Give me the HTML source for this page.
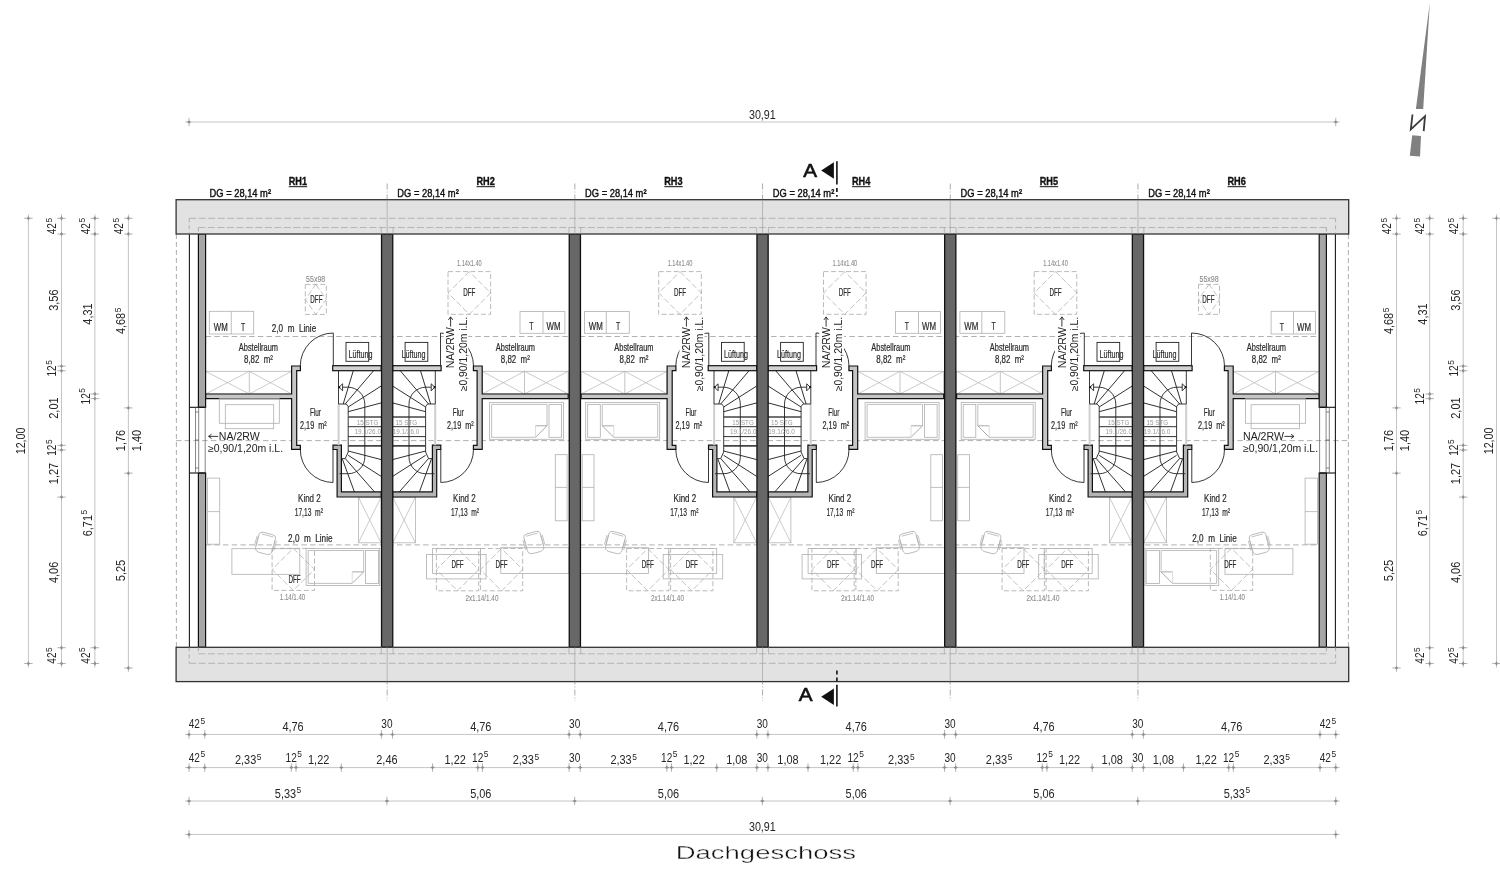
<!DOCTYPE html><html><head><meta charset="utf-8"><style>html,body{margin:0;padding:0;background:#fff;}svg{display:block;will-change:transform;transform:translateZ(0);}</style></head><body>
<svg width="1500" height="887" viewBox="0 0 1500 887">
<rect width="1500" height="887" fill="#fff"/>
<line x1="176" y1="440.6" x2="1348.8" y2="440.6" stroke="#a8a8a8" stroke-width="0.9" stroke-dasharray="5.5,3.2"/>
<line x1="205.6" y1="336.5" x2="1319.2" y2="336.5" stroke="#a8a8a8" stroke-width="0.9" stroke-dasharray="5.5,3.2"/>
<line x1="205.6" y1="544.9" x2="1319.2" y2="544.9" stroke="#a8a8a8" stroke-width="0.9" stroke-dasharray="5.5,3.2"/>
<rect x="205.6" y="371.3" width="86" height="22.7" fill="none" stroke="#b5b5b5" stroke-width="0.8"/>
<line x1="249.3" y1="371.3" x2="249.3" y2="394" stroke="#b5b5b5" stroke-width="0.8"/>
<line x1="205.6" y1="371.3" x2="249.3" y2="394" stroke="#b5b5b5" stroke-width="0.7"/>
<line x1="205.6" y1="394" x2="249.3" y2="371.3" stroke="#b5b5b5" stroke-width="0.7"/>
<line x1="249.3" y1="371.3" x2="291.6" y2="394" stroke="#b5b5b5" stroke-width="0.7"/>
<line x1="249.3" y1="394" x2="291.6" y2="371.3" stroke="#b5b5b5" stroke-width="0.7"/>
<rect x="358.4" y="497.2" width="22.6" height="45.6" fill="none" stroke="#b5b5b5" stroke-width="0.8"/>
<line x1="358.4" y1="497.2" x2="381" y2="542.8" stroke="#b5b5b5" stroke-width="0.7"/>
<line x1="358.4" y1="542.8" x2="381" y2="497.2" stroke="#b5b5b5" stroke-width="0.7"/>
<rect x="346" y="342.4" width="22.7" height="18.9" fill="none" stroke="#222" stroke-width="0.9"/>
<polygon points="291.6,366 300.4,366 300.4,370.7 296.7,370.7 296.7,445.3 300.4,445.3 300.4,449.3 291.6,449.3 291.6,398.7 205.6,398.7 205.6,394 291.6,394" fill="#c6c6c6" stroke="#111" stroke-width="1.2" stroke-linejoin="miter"/>
<rect x="332.7" y="365.7" width="48.5" height="5" fill="#d2d2d2" stroke="#111" stroke-width="1.2"/>
<polygon points="333,445.2 341.4,445.2 341.4,491.9 381.2,491.9 381.2,497 337.1,497 337.1,449.5 333,449.5" fill="#b4b4b4" stroke="#111" stroke-width="1.2" stroke-linejoin="miter"/>
<line x1="338.5" y1="370.7" x2="338.5" y2="404" stroke="#222" stroke-width="0.9"/>
<rect x="337.6" y="404" width="2" height="41.2" fill="#cfcfcf" stroke="none" stroke-width="0"/>
<polyline points="338.5,404 346.2,404 348.2,406.5 348.2,452 345.2,458.6 341.4,458.6" fill="none" stroke="#222" stroke-width="0.9" stroke-linejoin="miter"/>
<line x1="343.2" y1="404" x2="353.3" y2="370.7" stroke="#1a1a1a" stroke-width="0.9"/>
<line x1="345.2" y1="404" x2="373.6" y2="370.7" stroke="#1a1a1a" stroke-width="0.9"/>
<line x1="348.2" y1="407" x2="381.2" y2="386" stroke="#1a1a1a" stroke-width="0.9"/>
<line x1="348.2" y1="411.7" x2="381.2" y2="402.9" stroke="#1a1a1a" stroke-width="0.9"/>
<line x1="348.2" y1="451" x2="381.2" y2="459.6" stroke="#1a1a1a" stroke-width="0.9"/>
<line x1="348.2" y1="455.3" x2="381.2" y2="476.4" stroke="#1a1a1a" stroke-width="0.9"/>
<line x1="345.3" y1="458.6" x2="374.5" y2="491.9" stroke="#1a1a1a" stroke-width="0.9"/>
<line x1="342.4" y1="459.1" x2="354.4" y2="491.9" stroke="#1a1a1a" stroke-width="0.9"/>
<line x1="348.2" y1="417" x2="381.2" y2="417" stroke="#444" stroke-width="1.6"/>
<line x1="348.2" y1="426.7" x2="381.2" y2="426.7" stroke="#1a1a1a" stroke-width="0.9"/>
<line x1="348.2" y1="436.6" x2="381.2" y2="436.6" stroke="#1a1a1a" stroke-width="0.9"/>
<line x1="348.2" y1="445.9" x2="381.2" y2="445.9" stroke="#444" stroke-width="1.6"/>
<path d="M338.8,387.2 H347.9 A16.9,16.9 0 0 1 364.8,404.1 V457.2 A16.5,16.5 0 0 1 348.3,473.7 H339.5" fill="none" stroke="#222" stroke-width="0.9"/>
<polygon points="339,387.2 342.6,383.8 342.6,390.8" fill="white" stroke="#222" stroke-width="0.9" stroke-linejoin="miter"/>
<circle cx="339.2" cy="387.2" r="1.1" fill="#111"/>
<path d="M333.3,366 V333 A33,33 0 0 0 300.3,366" fill="none" stroke="#222" stroke-width="0.9"/>
<path d="M333,449.5 V482.5 A33,33 0 0 1 300.3,449.5" fill="none" stroke="#222" stroke-width="0.9"/>
<text x="258.4" y="350.8" font-family='"Liberation Sans", sans-serif' font-size="10.4" fill="#2a2a2a" font-weight="normal" text-anchor="middle" textLength="39.2" lengthAdjust="spacingAndGlyphs" stroke="#2a2a2a" stroke-width="0.22">Abstellraum</text>
<text x="258.5" y="363" font-family='"Liberation Sans", sans-serif' font-size="10.9" fill="#2a2a2a" font-weight="normal" text-anchor="middle" textLength="29" lengthAdjust="spacingAndGlyphs" stroke="#2a2a2a" stroke-width="0.22">8,82&#160;&#160;m²</text>
<text x="315.5" y="415.8" font-family='"Liberation Sans", sans-serif' font-size="10.4" fill="#2a2a2a" font-weight="normal" text-anchor="middle" textLength="11" lengthAdjust="spacingAndGlyphs" stroke="#2a2a2a" stroke-width="0.22">Flur</text>
<text x="313.4" y="428.8" font-family='"Liberation Sans", sans-serif' font-size="10.9" fill="#2a2a2a" font-weight="normal" text-anchor="middle" textLength="26.7" lengthAdjust="spacingAndGlyphs" stroke="#2a2a2a" stroke-width="0.22">2,19&#160;&#160;m²</text>
<text x="309.4" y="501.7" font-family='"Liberation Sans", sans-serif' font-size="10.6" fill="#2a2a2a" font-weight="normal" text-anchor="middle" textLength="22.6" lengthAdjust="spacingAndGlyphs" stroke="#2a2a2a" stroke-width="0.22">Kind 2</text>
<text x="308.8" y="516" font-family='"Liberation Sans", sans-serif' font-size="11.2" fill="#2a2a2a" font-weight="normal" text-anchor="middle" textLength="28.2" lengthAdjust="spacingAndGlyphs" stroke="#2a2a2a" stroke-width="0.22">17,13&#160;&#160;m²</text>
<text x="360.4" y="357.6" font-family='"Liberation Sans", sans-serif' font-size="11.5" fill="#2a2a2a" font-weight="normal" text-anchor="middle" textLength="24" lengthAdjust="spacingAndGlyphs" stroke="#2a2a2a" stroke-width="0.22">Lüftung</text>
<text x="367.5" y="424.6" font-family='"Liberation Sans", sans-serif' font-size="7.4" fill="#9a9a9a" font-weight="normal" text-anchor="middle" textLength="21.5" lengthAdjust="spacingAndGlyphs">15 STG</text>
<text x="367.7" y="433.7" font-family='"Liberation Sans", sans-serif' font-size="7.4" fill="#9a9a9a" font-weight="normal" text-anchor="middle" textLength="26.6" lengthAdjust="spacingAndGlyphs">19.1/26.0</text>
<rect x="209.3" y="311.3" width="44.4" height="22.7" fill="none" stroke="#b0b0b0" stroke-width="0.8"/>
<line x1="231.3" y1="311.3" x2="231.3" y2="334" stroke="#b0b0b0" stroke-width="0.8"/>
<text x="220.8" y="330.6" font-family='"Liberation Sans", sans-serif' font-size="10.4" fill="#2a2a2a" font-weight="normal" text-anchor="middle" textLength="14" lengthAdjust="spacingAndGlyphs" stroke="#2a2a2a" stroke-width="0.22">WM</text>
<text x="243" y="330.6" font-family='"Liberation Sans", sans-serif' font-size="10.4" fill="#2a2a2a" font-weight="normal" text-anchor="middle" textLength="4.2" lengthAdjust="spacingAndGlyphs" stroke="#2a2a2a" stroke-width="0.22">T</text>
<rect x="305.3" y="284.4" width="21" height="30" fill="none" stroke="#a8a8a8" stroke-width="0.8" stroke-dasharray="5,2.5"/>
<polygon points="315.8,284.4 326.3,299.4 315.8,314.4 305.3,299.4" fill="none" stroke="#a8a8a8" stroke-width="0.7" stroke-linejoin="miter" stroke-dasharray="6,2.5"/>
<text x="315.7" y="281.5" font-family='"Liberation Sans", sans-serif' font-size="8.6" fill="#8a8a8a" font-weight="normal" text-anchor="middle" textLength="19.2" lengthAdjust="spacingAndGlyphs" stroke="#8a8a8a" stroke-width="0.1">55x98</text>
<text x="316.4" y="302.7" font-family='"Liberation Sans", sans-serif' font-size="10.4" fill="#2a2a2a" font-weight="normal" text-anchor="middle" textLength="12.1" lengthAdjust="spacingAndGlyphs" stroke="#2a2a2a" stroke-width="0.22">DFF</text>
<text x="294" y="331.8" font-family='"Liberation Sans", sans-serif' font-size="10.4" fill="#2a2a2a" font-weight="normal" text-anchor="middle" textLength="44.4" lengthAdjust="spacingAndGlyphs" stroke="#2a2a2a" stroke-width="0.22">2,0&#160;&#160;m&#160;&#160;Linie</text>
<rect x="219.3" y="398.7" width="60" height="24.6" fill="none" stroke="#b0b0b0" stroke-width="0.8"/>
<rect x="225.3" y="404.7" width="48.4" height="24" fill="none" stroke="#b0b0b0" stroke-width="0.8"/>
<rect x="207.4" y="478.1" width="12.3" height="66.1" fill="none" stroke="#b0b0b0" stroke-width="0.8"/>
<line x1="207.4" y1="511.6" x2="219.7" y2="511.6" stroke="#b0b0b0" stroke-width="0.8"/>
<text x="310.3" y="541.8" font-family='"Liberation Sans", sans-serif' font-size="10.4" fill="#2a2a2a" font-weight="normal" text-anchor="middle" textLength="44.4" lengthAdjust="spacingAndGlyphs" stroke="#2a2a2a" stroke-width="0.22">2,0&#160;&#160;m&#160;&#160;Linie</text>
<g transform="translate(265.5 543.2) rotate(15)">
<path d="M-8.5,-7 Q-8.5,-10 -5,-10 L5,-10 Q8.5,-10 8.5,-7 L8.5,6 Q8.5,10 4,10.5 L-4,10.5 Q-8.5,10 -8.5,6 Z" fill="none" stroke="#b0b0b0" stroke-width="0.8"/>
<path d="M-6,-8 L6,-8 M-10,-5 L-10,5 M-8.5,-5 L-8.5,5 M10,-5 L10,5 M8.5,-5 L8.5,5" fill="none" stroke="#b0b0b0" stroke-width="0.7"/>
</g>
<rect x="231.9" y="548.7" width="67.9" height="25.6" fill="none" stroke="#b0b0b0" stroke-width="0.8"/>
<rect x="272.1" y="548.4" width="42.4" height="42" fill="none" stroke="#a8a8a8" stroke-width="0.8" stroke-dasharray="5,2.5"/>
<polygon points="293.3,548.4 314.5,569.4 293.3,590.4 272.1,569.4" fill="none" stroke="#a8a8a8" stroke-width="0.7" stroke-linejoin="miter" stroke-dasharray="6,2.5"/>
<text x="294.5" y="582.7" font-family='"Liberation Sans", sans-serif' font-size="10.4" fill="#2a2a2a" font-weight="normal" text-anchor="middle" textLength="12.1" lengthAdjust="spacingAndGlyphs" stroke="#2a2a2a" stroke-width="0.22">DFF</text>
<rect x="306.1" y="548.4" width="73.6" height="37.1" fill="none" stroke="#b0b0b0" stroke-width="0.8"/>
<polyline points="363.7,571.9 363.7,550.5 308.2,550.5 308.2,583.4 352.2,583.4" fill="none" stroke="#b0b0b0" stroke-width="0.8" stroke-linejoin="miter"/>
<line x1="352.2" y1="583.4" x2="363.7" y2="571.9" stroke="#a0a0a0" stroke-width="0.9"/>
<line x1="352.2" y1="571.9" x2="363.7" y2="571.9" stroke="#a0a0a0" stroke-width="0.9"/>
<line x1="352.2" y1="571.9" x2="352.2" y2="583.4" stroke="#d0d0d0" stroke-width="0.7"/>
<rect x="365.4" y="550.5" width="13.2" height="32.9" fill="none" stroke="#b0b0b0" stroke-width="0.8"/>
<text x="292.5" y="600.4" font-family='"Liberation Sans", sans-serif' font-size="8.6" fill="#8a8a8a" font-weight="normal" text-anchor="middle" textLength="25.3" lengthAdjust="spacingAndGlyphs" stroke="#8a8a8a" stroke-width="0.1">1.14/1.40</text>
<rect x="482.2" y="371.3" width="86" height="22.7" fill="none" stroke="#b5b5b5" stroke-width="0.8"/>
<line x1="524.5" y1="371.3" x2="524.5" y2="394" stroke="#b5b5b5" stroke-width="0.8"/>
<line x1="568.2" y1="371.3" x2="524.5" y2="394" stroke="#b5b5b5" stroke-width="0.7"/>
<line x1="568.2" y1="394" x2="524.5" y2="371.3" stroke="#b5b5b5" stroke-width="0.7"/>
<line x1="524.5" y1="371.3" x2="482.2" y2="394" stroke="#b5b5b5" stroke-width="0.7"/>
<line x1="524.5" y1="394" x2="482.2" y2="371.3" stroke="#b5b5b5" stroke-width="0.7"/>
<rect x="392.8" y="497.2" width="22.6" height="45.6" fill="none" stroke="#b5b5b5" stroke-width="0.8"/>
<line x1="415.4" y1="497.2" x2="392.8" y2="542.8" stroke="#b5b5b5" stroke-width="0.7"/>
<line x1="415.4" y1="542.8" x2="392.8" y2="497.2" stroke="#b5b5b5" stroke-width="0.7"/>
<rect x="405.1" y="342.4" width="22.7" height="18.9" fill="none" stroke="#222" stroke-width="0.9"/>
<polygon points="482.2,366 473.4,366 473.4,370.7 477.1,370.7 477.1,445.3 473.4,445.3 473.4,449.3 482.2,449.3 482.2,398.7 568.2,398.7 568.2,394 482.2,394" fill="#c6c6c6" stroke="#111" stroke-width="1.2" stroke-linejoin="miter"/>
<rect x="392.6" y="365.7" width="48.5" height="5" fill="#d2d2d2" stroke="#111" stroke-width="1.2"/>
<polygon points="440.8,445.2 432.4,445.2 432.4,491.9 392.6,491.9 392.6,497 436.7,497 436.7,449.5 440.8,449.5" fill="#b4b4b4" stroke="#111" stroke-width="1.2" stroke-linejoin="miter"/>
<line x1="435.3" y1="370.7" x2="435.3" y2="404" stroke="#222" stroke-width="0.9"/>
<rect x="434.2" y="404" width="2" height="41.2" fill="#cfcfcf" stroke="none" stroke-width="0"/>
<polyline points="435.3,404 427.6,404 425.6,406.5 425.6,452 428.6,458.6 432.4,458.6" fill="none" stroke="#222" stroke-width="0.9" stroke-linejoin="miter"/>
<line x1="430.6" y1="404" x2="420.5" y2="370.7" stroke="#1a1a1a" stroke-width="0.9"/>
<line x1="428.6" y1="404" x2="400.2" y2="370.7" stroke="#1a1a1a" stroke-width="0.9"/>
<line x1="425.6" y1="407" x2="392.6" y2="386" stroke="#1a1a1a" stroke-width="0.9"/>
<line x1="425.6" y1="411.7" x2="392.6" y2="402.9" stroke="#1a1a1a" stroke-width="0.9"/>
<line x1="425.6" y1="451" x2="392.6" y2="459.6" stroke="#1a1a1a" stroke-width="0.9"/>
<line x1="425.6" y1="455.3" x2="392.6" y2="476.4" stroke="#1a1a1a" stroke-width="0.9"/>
<line x1="428.5" y1="458.6" x2="399.3" y2="491.9" stroke="#1a1a1a" stroke-width="0.9"/>
<line x1="431.4" y1="459.1" x2="419.4" y2="491.9" stroke="#1a1a1a" stroke-width="0.9"/>
<line x1="425.6" y1="417" x2="392.6" y2="417" stroke="#444" stroke-width="1.6"/>
<line x1="425.6" y1="426.7" x2="392.6" y2="426.7" stroke="#1a1a1a" stroke-width="0.9"/>
<line x1="425.6" y1="436.6" x2="392.6" y2="436.6" stroke="#1a1a1a" stroke-width="0.9"/>
<line x1="425.6" y1="445.9" x2="392.6" y2="445.9" stroke="#444" stroke-width="1.6"/>
<path d="M435,387.2 H425.9 A16.9,16.9 0 0 0 409,404.1 V457.2 A16.5,16.5 0 0 0 425.5,473.7 H434.3" fill="none" stroke="#222" stroke-width="0.9"/>
<polygon points="434.8,387.2 431.2,383.8 431.2,390.8" fill="white" stroke="#222" stroke-width="0.9" stroke-linejoin="miter"/>
<circle cx="434.6" cy="387.2" r="1.1" fill="#111"/>
<path d="M440.5,366 V333 A33,33 0 0 1 473.5,366" fill="none" stroke="#222" stroke-width="0.9"/>
<path d="M440.8,449.5 V482.5 A33,33 0 0 0 473.5,449.5" fill="none" stroke="#222" stroke-width="0.9"/>
<text x="515.4" y="350.8" font-family='"Liberation Sans", sans-serif' font-size="10.4" fill="#2a2a2a" font-weight="normal" text-anchor="middle" textLength="39.2" lengthAdjust="spacingAndGlyphs" stroke="#2a2a2a" stroke-width="0.22">Abstellraum</text>
<text x="515.3" y="363" font-family='"Liberation Sans", sans-serif' font-size="10.9" fill="#2a2a2a" font-weight="normal" text-anchor="middle" textLength="29" lengthAdjust="spacingAndGlyphs" stroke="#2a2a2a" stroke-width="0.22">8,82&#160;&#160;m²</text>
<text x="458.3" y="415.8" font-family='"Liberation Sans", sans-serif' font-size="10.4" fill="#2a2a2a" font-weight="normal" text-anchor="middle" textLength="11" lengthAdjust="spacingAndGlyphs" stroke="#2a2a2a" stroke-width="0.22">Flur</text>
<text x="460.4" y="428.8" font-family='"Liberation Sans", sans-serif' font-size="10.9" fill="#2a2a2a" font-weight="normal" text-anchor="middle" textLength="26.7" lengthAdjust="spacingAndGlyphs" stroke="#2a2a2a" stroke-width="0.22">2,19&#160;&#160;m²</text>
<text x="464.4" y="501.7" font-family='"Liberation Sans", sans-serif' font-size="10.6" fill="#2a2a2a" font-weight="normal" text-anchor="middle" textLength="22.6" lengthAdjust="spacingAndGlyphs" stroke="#2a2a2a" stroke-width="0.22">Kind 2</text>
<text x="465" y="516" font-family='"Liberation Sans", sans-serif' font-size="11.2" fill="#2a2a2a" font-weight="normal" text-anchor="middle" textLength="28.2" lengthAdjust="spacingAndGlyphs" stroke="#2a2a2a" stroke-width="0.22">17,13&#160;&#160;m²</text>
<text x="413.4" y="357.6" font-family='"Liberation Sans", sans-serif' font-size="11.5" fill="#2a2a2a" font-weight="normal" text-anchor="middle" textLength="24" lengthAdjust="spacingAndGlyphs" stroke="#2a2a2a" stroke-width="0.22">Lüftung</text>
<text x="406.3" y="424.6" font-family='"Liberation Sans", sans-serif' font-size="7.4" fill="#9a9a9a" font-weight="normal" text-anchor="middle" textLength="21.5" lengthAdjust="spacingAndGlyphs">15 STG</text>
<text x="406.1" y="433.7" font-family='"Liberation Sans", sans-serif' font-size="7.4" fill="#9a9a9a" font-weight="normal" text-anchor="middle" textLength="26.6" lengthAdjust="spacingAndGlyphs">19.1/26.0</text>
<rect x="520" y="311.6" width="44.9" height="21.7" fill="none" stroke="#b0b0b0" stroke-width="0.8"/>
<line x1="543" y1="311.6" x2="543" y2="333.3" stroke="#b0b0b0" stroke-width="0.8"/>
<text x="553.5" y="330.3" font-family='"Liberation Sans", sans-serif' font-size="10.4" fill="#2a2a2a" font-weight="normal" text-anchor="middle" textLength="14" lengthAdjust="spacingAndGlyphs" stroke="#2a2a2a" stroke-width="0.22">WM</text>
<text x="531.3" y="330.3" font-family='"Liberation Sans", sans-serif' font-size="10.4" fill="#2a2a2a" font-weight="normal" text-anchor="middle" textLength="4.2" lengthAdjust="spacingAndGlyphs" stroke="#2a2a2a" stroke-width="0.22">T</text>
<rect x="448" y="271.6" width="42.6" height="42.7" fill="none" stroke="#a8a8a8" stroke-width="0.8" stroke-dasharray="5,2.5"/>
<polygon points="469.3,271.6 448,292.95 469.3,314.3 490.6,292.95" fill="none" stroke="#a8a8a8" stroke-width="0.7" stroke-linejoin="miter" stroke-dasharray="6,2.5"/>
<text x="469.3" y="265.7" font-family='"Liberation Sans", sans-serif' font-size="8.6" fill="#8a8a8a" font-weight="normal" text-anchor="middle" textLength="24.7" lengthAdjust="spacingAndGlyphs" stroke="#8a8a8a" stroke-width="0.1">1.14x1.40</text>
<text x="469.3" y="296.3" font-family='"Liberation Sans", sans-serif' font-size="10.4" fill="#2a2a2a" font-weight="normal" text-anchor="middle" textLength="12.1" lengthAdjust="spacingAndGlyphs" stroke="#2a2a2a" stroke-width="0.22">DFF</text>
<rect x="489.6" y="402.4" width="74" height="36.9" fill="none" stroke="#b0b0b0" stroke-width="0.8"/>
<polyline points="547,425.8 547,404.4 491.6,404.4 491.6,437.3 535.5,437.3" fill="none" stroke="#b0b0b0" stroke-width="0.8" stroke-linejoin="miter"/>
<line x1="535.5" y1="437.3" x2="547" y2="425.8" stroke="#a0a0a0" stroke-width="0.9"/>
<line x1="535.5" y1="425.8" x2="547" y2="425.8" stroke="#a0a0a0" stroke-width="0.9"/>
<line x1="535.5" y1="425.8" x2="535.5" y2="437.3" stroke="#d0d0d0" stroke-width="0.7"/>
<rect x="549" y="404.4" width="12.6" height="32.9" fill="none" stroke="#b0b0b0" stroke-width="0.8"/>
<rect x="555.3" y="454.7" width="11.8" height="66.1" fill="none" stroke="#b0b0b0" stroke-width="0.8"/>
<line x1="567.1" y1="487.4" x2="555.3" y2="487.4" stroke="#b0b0b0" stroke-width="0.8"/>
<g transform="translate(533.9 542.4) rotate(-15)">
<path d="M-8.5,-7 Q-8.5,-10 -5,-10 L5,-10 Q8.5,-10 8.5,-7 L8.5,6 Q8.5,10 4,10.5 L-4,10.5 Q-8.5,10 -8.5,6 Z" fill="none" stroke="#b0b0b0" stroke-width="0.8"/>
<path d="M-6,-8 L6,-8 M-10,-5 L-10,5 M-8.5,-5 L-8.5,5 M10,-5 L10,5 M8.5,-5 L8.5,5" fill="none" stroke="#b0b0b0" stroke-width="0.7"/>
</g>
<rect x="500.8" y="547.7" width="68.2" height="25.7" fill="none" stroke="#b0b0b0" stroke-width="0.8"/>
<rect x="480.4" y="548.5" width="42.3" height="42.3" fill="none" stroke="#a8a8a8" stroke-width="0.8" stroke-dasharray="5,2.5"/>
<polygon points="501.55,548.5 480.4,569.65 501.55,590.8 522.7,569.65" fill="none" stroke="#a8a8a8" stroke-width="0.7" stroke-linejoin="miter" stroke-dasharray="6,2.5"/>
<rect x="436.4" y="548.5" width="42.3" height="42.3" fill="none" stroke="#a8a8a8" stroke-width="0.8" stroke-dasharray="5,2.5"/>
<polygon points="457.55,548.5 436.4,569.65 457.55,590.8 478.7,569.65" fill="none" stroke="#a8a8a8" stroke-width="0.7" stroke-linejoin="miter" stroke-dasharray="6,2.5"/>
<rect x="426.6" y="554.5" width="59.5" height="24.4" fill="none" stroke="#b0b0b0" stroke-width="0.8"/>
<rect x="432.6" y="548.5" width="48" height="24.9" fill="none" stroke="#b0b0b0" stroke-width="0.8"/>
<text x="501.5" y="568.3" font-family='"Liberation Sans", sans-serif' font-size="10.4" fill="#2a2a2a" font-weight="normal" text-anchor="middle" textLength="12.1" lengthAdjust="spacingAndGlyphs" stroke="#2a2a2a" stroke-width="0.22">DFF</text>
<text x="457.5" y="568.3" font-family='"Liberation Sans", sans-serif' font-size="10.4" fill="#2a2a2a" font-weight="normal" text-anchor="middle" textLength="12.1" lengthAdjust="spacingAndGlyphs" stroke="#2a2a2a" stroke-width="0.22">DFF</text>
<text x="481.9" y="601" font-family='"Liberation Sans", sans-serif' font-size="8.6" fill="#8a8a8a" font-weight="normal" text-anchor="middle" textLength="33" lengthAdjust="spacingAndGlyphs" stroke="#8a8a8a" stroke-width="0.1">2x1.14/1.40</text>
<rect x="581.1" y="371.3" width="86" height="22.7" fill="none" stroke="#b5b5b5" stroke-width="0.8"/>
<line x1="624.8" y1="371.3" x2="624.8" y2="394" stroke="#b5b5b5" stroke-width="0.8"/>
<line x1="581.1" y1="371.3" x2="624.8" y2="394" stroke="#b5b5b5" stroke-width="0.7"/>
<line x1="581.1" y1="394" x2="624.8" y2="371.3" stroke="#b5b5b5" stroke-width="0.7"/>
<line x1="624.8" y1="371.3" x2="667.1" y2="394" stroke="#b5b5b5" stroke-width="0.7"/>
<line x1="624.8" y1="394" x2="667.1" y2="371.3" stroke="#b5b5b5" stroke-width="0.7"/>
<rect x="733.9" y="497.2" width="22.6" height="45.6" fill="none" stroke="#b5b5b5" stroke-width="0.8"/>
<line x1="733.9" y1="497.2" x2="756.5" y2="542.8" stroke="#b5b5b5" stroke-width="0.7"/>
<line x1="733.9" y1="542.8" x2="756.5" y2="497.2" stroke="#b5b5b5" stroke-width="0.7"/>
<rect x="721.5" y="342.4" width="22.7" height="18.9" fill="none" stroke="#222" stroke-width="0.9"/>
<polygon points="667.1,366 675.9,366 675.9,370.7 672.2,370.7 672.2,445.3 675.9,445.3 675.9,449.3 667.1,449.3 667.1,398.7 581.1,398.7 581.1,394 667.1,394" fill="#c6c6c6" stroke="#111" stroke-width="1.2" stroke-linejoin="miter"/>
<rect x="708.2" y="365.7" width="48.5" height="5" fill="#d2d2d2" stroke="#111" stroke-width="1.2"/>
<polygon points="708.5,445.2 716.9,445.2 716.9,491.9 756.7,491.9 756.7,497 712.6,497 712.6,449.5 708.5,449.5" fill="#b4b4b4" stroke="#111" stroke-width="1.2" stroke-linejoin="miter"/>
<line x1="714" y1="370.7" x2="714" y2="404" stroke="#222" stroke-width="0.9"/>
<rect x="713.1" y="404" width="2" height="41.2" fill="#cfcfcf" stroke="none" stroke-width="0"/>
<polyline points="714,404 721.7,404 723.7,406.5 723.7,452 720.7,458.6 716.9,458.6" fill="none" stroke="#222" stroke-width="0.9" stroke-linejoin="miter"/>
<line x1="718.7" y1="404" x2="728.8" y2="370.7" stroke="#1a1a1a" stroke-width="0.9"/>
<line x1="720.7" y1="404" x2="749.1" y2="370.7" stroke="#1a1a1a" stroke-width="0.9"/>
<line x1="723.7" y1="407" x2="756.7" y2="386" stroke="#1a1a1a" stroke-width="0.9"/>
<line x1="723.7" y1="411.7" x2="756.7" y2="402.9" stroke="#1a1a1a" stroke-width="0.9"/>
<line x1="723.7" y1="451" x2="756.7" y2="459.6" stroke="#1a1a1a" stroke-width="0.9"/>
<line x1="723.7" y1="455.3" x2="756.7" y2="476.4" stroke="#1a1a1a" stroke-width="0.9"/>
<line x1="720.8" y1="458.6" x2="750" y2="491.9" stroke="#1a1a1a" stroke-width="0.9"/>
<line x1="717.9" y1="459.1" x2="729.9" y2="491.9" stroke="#1a1a1a" stroke-width="0.9"/>
<line x1="723.7" y1="417" x2="756.7" y2="417" stroke="#444" stroke-width="1.6"/>
<line x1="723.7" y1="426.7" x2="756.7" y2="426.7" stroke="#1a1a1a" stroke-width="0.9"/>
<line x1="723.7" y1="436.6" x2="756.7" y2="436.6" stroke="#1a1a1a" stroke-width="0.9"/>
<line x1="723.7" y1="445.9" x2="756.7" y2="445.9" stroke="#444" stroke-width="1.6"/>
<path d="M714.3,387.2 H723.4 A16.9,16.9 0 0 1 740.3,404.1 V457.2 A16.5,16.5 0 0 1 723.8,473.7 H715" fill="none" stroke="#222" stroke-width="0.9"/>
<polygon points="714.5,387.2 718.1,383.8 718.1,390.8" fill="white" stroke="#222" stroke-width="0.9" stroke-linejoin="miter"/>
<circle cx="714.7" cy="387.2" r="1.1" fill="#111"/>
<path d="M708.8,366 V333 A33,33 0 0 0 675.8,366" fill="none" stroke="#222" stroke-width="0.9"/>
<path d="M708.5,449.5 V482.5 A33,33 0 0 1 675.8,449.5" fill="none" stroke="#222" stroke-width="0.9"/>
<text x="633.9" y="350.8" font-family='"Liberation Sans", sans-serif' font-size="10.4" fill="#2a2a2a" font-weight="normal" text-anchor="middle" textLength="39.2" lengthAdjust="spacingAndGlyphs" stroke="#2a2a2a" stroke-width="0.22">Abstellraum</text>
<text x="634" y="363" font-family='"Liberation Sans", sans-serif' font-size="10.9" fill="#2a2a2a" font-weight="normal" text-anchor="middle" textLength="29" lengthAdjust="spacingAndGlyphs" stroke="#2a2a2a" stroke-width="0.22">8,82&#160;&#160;m²</text>
<text x="691" y="415.8" font-family='"Liberation Sans", sans-serif' font-size="10.4" fill="#2a2a2a" font-weight="normal" text-anchor="middle" textLength="11" lengthAdjust="spacingAndGlyphs" stroke="#2a2a2a" stroke-width="0.22">Flur</text>
<text x="688.9" y="428.8" font-family='"Liberation Sans", sans-serif' font-size="10.9" fill="#2a2a2a" font-weight="normal" text-anchor="middle" textLength="26.7" lengthAdjust="spacingAndGlyphs" stroke="#2a2a2a" stroke-width="0.22">2,19&#160;&#160;m²</text>
<text x="684.9" y="501.7" font-family='"Liberation Sans", sans-serif' font-size="10.6" fill="#2a2a2a" font-weight="normal" text-anchor="middle" textLength="22.6" lengthAdjust="spacingAndGlyphs" stroke="#2a2a2a" stroke-width="0.22">Kind 2</text>
<text x="684.3" y="516" font-family='"Liberation Sans", sans-serif' font-size="11.2" fill="#2a2a2a" font-weight="normal" text-anchor="middle" textLength="28.2" lengthAdjust="spacingAndGlyphs" stroke="#2a2a2a" stroke-width="0.22">17,13&#160;&#160;m²</text>
<text x="735.9" y="357.6" font-family='"Liberation Sans", sans-serif' font-size="11.5" fill="#2a2a2a" font-weight="normal" text-anchor="middle" textLength="24" lengthAdjust="spacingAndGlyphs" stroke="#2a2a2a" stroke-width="0.22">Lüftung</text>
<text x="743" y="424.6" font-family='"Liberation Sans", sans-serif' font-size="7.4" fill="#9a9a9a" font-weight="normal" text-anchor="middle" textLength="21.5" lengthAdjust="spacingAndGlyphs">15 STG</text>
<text x="743.2" y="433.7" font-family='"Liberation Sans", sans-serif' font-size="7.4" fill="#9a9a9a" font-weight="normal" text-anchor="middle" textLength="26.6" lengthAdjust="spacingAndGlyphs">19.1/26.0</text>
<rect x="584.4" y="311.6" width="44.9" height="21.7" fill="none" stroke="#b0b0b0" stroke-width="0.8"/>
<line x1="606.3" y1="311.6" x2="606.3" y2="333.3" stroke="#b0b0b0" stroke-width="0.8"/>
<text x="595.8" y="330.3" font-family='"Liberation Sans", sans-serif' font-size="10.4" fill="#2a2a2a" font-weight="normal" text-anchor="middle" textLength="14" lengthAdjust="spacingAndGlyphs" stroke="#2a2a2a" stroke-width="0.22">WM</text>
<text x="618" y="330.3" font-family='"Liberation Sans", sans-serif' font-size="10.4" fill="#2a2a2a" font-weight="normal" text-anchor="middle" textLength="4.2" lengthAdjust="spacingAndGlyphs" stroke="#2a2a2a" stroke-width="0.22">T</text>
<rect x="658.7" y="271.6" width="42.6" height="42.7" fill="none" stroke="#a8a8a8" stroke-width="0.8" stroke-dasharray="5,2.5"/>
<polygon points="680,271.6 701.3,292.95 680,314.3 658.7,292.95" fill="none" stroke="#a8a8a8" stroke-width="0.7" stroke-linejoin="miter" stroke-dasharray="6,2.5"/>
<text x="680" y="265.7" font-family='"Liberation Sans", sans-serif' font-size="8.6" fill="#8a8a8a" font-weight="normal" text-anchor="middle" textLength="24.7" lengthAdjust="spacingAndGlyphs" stroke="#8a8a8a" stroke-width="0.1">1.14x1.40</text>
<text x="680" y="296.3" font-family='"Liberation Sans", sans-serif' font-size="10.4" fill="#2a2a2a" font-weight="normal" text-anchor="middle" textLength="12.1" lengthAdjust="spacingAndGlyphs" stroke="#2a2a2a" stroke-width="0.22">DFF</text>
<rect x="585.7" y="402.4" width="74" height="36.9" fill="none" stroke="#b0b0b0" stroke-width="0.8"/>
<polyline points="602.3,425.8 602.3,404.4 657.7,404.4 657.7,437.3 613.8,437.3" fill="none" stroke="#b0b0b0" stroke-width="0.8" stroke-linejoin="miter"/>
<line x1="613.8" y1="437.3" x2="602.3" y2="425.8" stroke="#a0a0a0" stroke-width="0.9"/>
<line x1="613.8" y1="425.8" x2="602.3" y2="425.8" stroke="#a0a0a0" stroke-width="0.9"/>
<line x1="613.8" y1="425.8" x2="613.8" y2="437.3" stroke="#d0d0d0" stroke-width="0.7"/>
<rect x="587.7" y="404.4" width="12.6" height="32.9" fill="none" stroke="#b0b0b0" stroke-width="0.8"/>
<rect x="582.2" y="454.7" width="11.8" height="66.1" fill="none" stroke="#b0b0b0" stroke-width="0.8"/>
<line x1="582.2" y1="487.4" x2="594" y2="487.4" stroke="#b0b0b0" stroke-width="0.8"/>
<g transform="translate(615.4 542.4) rotate(15)">
<path d="M-8.5,-7 Q-8.5,-10 -5,-10 L5,-10 Q8.5,-10 8.5,-7 L8.5,6 Q8.5,10 4,10.5 L-4,10.5 Q-8.5,10 -8.5,6 Z" fill="none" stroke="#b0b0b0" stroke-width="0.8"/>
<path d="M-6,-8 L6,-8 M-10,-5 L-10,5 M-8.5,-5 L-8.5,5 M10,-5 L10,5 M8.5,-5 L8.5,5" fill="none" stroke="#b0b0b0" stroke-width="0.7"/>
</g>
<rect x="580.3" y="547.7" width="68.2" height="25.7" fill="none" stroke="#b0b0b0" stroke-width="0.8"/>
<rect x="626.6" y="548.5" width="42.3" height="42.3" fill="none" stroke="#a8a8a8" stroke-width="0.8" stroke-dasharray="5,2.5"/>
<polygon points="647.75,548.5 668.9,569.65 647.75,590.8 626.6,569.65" fill="none" stroke="#a8a8a8" stroke-width="0.7" stroke-linejoin="miter" stroke-dasharray="6,2.5"/>
<rect x="670.6" y="548.5" width="42.3" height="42.3" fill="none" stroke="#a8a8a8" stroke-width="0.8" stroke-dasharray="5,2.5"/>
<polygon points="691.75,548.5 712.9,569.65 691.75,590.8 670.6,569.65" fill="none" stroke="#a8a8a8" stroke-width="0.7" stroke-linejoin="miter" stroke-dasharray="6,2.5"/>
<rect x="663.2" y="554.5" width="59.5" height="24.4" fill="none" stroke="#b0b0b0" stroke-width="0.8"/>
<rect x="668.7" y="548.5" width="48" height="24.9" fill="none" stroke="#b0b0b0" stroke-width="0.8"/>
<text x="647.8" y="568.3" font-family='"Liberation Sans", sans-serif' font-size="10.4" fill="#2a2a2a" font-weight="normal" text-anchor="middle" textLength="12.1" lengthAdjust="spacingAndGlyphs" stroke="#2a2a2a" stroke-width="0.22">DFF</text>
<text x="691.8" y="568.3" font-family='"Liberation Sans", sans-serif' font-size="10.4" fill="#2a2a2a" font-weight="normal" text-anchor="middle" textLength="12.1" lengthAdjust="spacingAndGlyphs" stroke="#2a2a2a" stroke-width="0.22">DFF</text>
<text x="667.4" y="601" font-family='"Liberation Sans", sans-serif' font-size="8.6" fill="#8a8a8a" font-weight="normal" text-anchor="middle" textLength="33" lengthAdjust="spacingAndGlyphs" stroke="#8a8a8a" stroke-width="0.1">2x1.14/1.40</text>
<rect x="857.7" y="371.3" width="86" height="22.7" fill="none" stroke="#b5b5b5" stroke-width="0.8"/>
<line x1="900" y1="371.3" x2="900" y2="394" stroke="#b5b5b5" stroke-width="0.8"/>
<line x1="943.7" y1="371.3" x2="900" y2="394" stroke="#b5b5b5" stroke-width="0.7"/>
<line x1="943.7" y1="394" x2="900" y2="371.3" stroke="#b5b5b5" stroke-width="0.7"/>
<line x1="900" y1="371.3" x2="857.7" y2="394" stroke="#b5b5b5" stroke-width="0.7"/>
<line x1="900" y1="394" x2="857.7" y2="371.3" stroke="#b5b5b5" stroke-width="0.7"/>
<rect x="768.3" y="497.2" width="22.6" height="45.6" fill="none" stroke="#b5b5b5" stroke-width="0.8"/>
<line x1="790.9" y1="497.2" x2="768.3" y2="542.8" stroke="#b5b5b5" stroke-width="0.7"/>
<line x1="790.9" y1="542.8" x2="768.3" y2="497.2" stroke="#b5b5b5" stroke-width="0.7"/>
<rect x="780.6" y="342.4" width="22.7" height="18.9" fill="none" stroke="#222" stroke-width="0.9"/>
<polygon points="857.7,366 848.9,366 848.9,370.7 852.6,370.7 852.6,445.3 848.9,445.3 848.9,449.3 857.7,449.3 857.7,398.7 943.7,398.7 943.7,394 857.7,394" fill="#c6c6c6" stroke="#111" stroke-width="1.2" stroke-linejoin="miter"/>
<rect x="768.1" y="365.7" width="48.5" height="5" fill="#d2d2d2" stroke="#111" stroke-width="1.2"/>
<polygon points="816.3,445.2 807.9,445.2 807.9,491.9 768.1,491.9 768.1,497 812.2,497 812.2,449.5 816.3,449.5" fill="#b4b4b4" stroke="#111" stroke-width="1.2" stroke-linejoin="miter"/>
<line x1="810.8" y1="370.7" x2="810.8" y2="404" stroke="#222" stroke-width="0.9"/>
<rect x="809.7" y="404" width="2" height="41.2" fill="#cfcfcf" stroke="none" stroke-width="0"/>
<polyline points="810.8,404 803.1,404 801.1,406.5 801.1,452 804.1,458.6 807.9,458.6" fill="none" stroke="#222" stroke-width="0.9" stroke-linejoin="miter"/>
<line x1="806.1" y1="404" x2="796" y2="370.7" stroke="#1a1a1a" stroke-width="0.9"/>
<line x1="804.1" y1="404" x2="775.7" y2="370.7" stroke="#1a1a1a" stroke-width="0.9"/>
<line x1="801.1" y1="407" x2="768.1" y2="386" stroke="#1a1a1a" stroke-width="0.9"/>
<line x1="801.1" y1="411.7" x2="768.1" y2="402.9" stroke="#1a1a1a" stroke-width="0.9"/>
<line x1="801.1" y1="451" x2="768.1" y2="459.6" stroke="#1a1a1a" stroke-width="0.9"/>
<line x1="801.1" y1="455.3" x2="768.1" y2="476.4" stroke="#1a1a1a" stroke-width="0.9"/>
<line x1="804" y1="458.6" x2="774.8" y2="491.9" stroke="#1a1a1a" stroke-width="0.9"/>
<line x1="806.9" y1="459.1" x2="794.9" y2="491.9" stroke="#1a1a1a" stroke-width="0.9"/>
<line x1="801.1" y1="417" x2="768.1" y2="417" stroke="#444" stroke-width="1.6"/>
<line x1="801.1" y1="426.7" x2="768.1" y2="426.7" stroke="#1a1a1a" stroke-width="0.9"/>
<line x1="801.1" y1="436.6" x2="768.1" y2="436.6" stroke="#1a1a1a" stroke-width="0.9"/>
<line x1="801.1" y1="445.9" x2="768.1" y2="445.9" stroke="#444" stroke-width="1.6"/>
<path d="M810.5,387.2 H801.4 A16.9,16.9 0 0 0 784.5,404.1 V457.2 A16.5,16.5 0 0 0 801,473.7 H809.8" fill="none" stroke="#222" stroke-width="0.9"/>
<polygon points="810.3,387.2 806.7,383.8 806.7,390.8" fill="white" stroke="#222" stroke-width="0.9" stroke-linejoin="miter"/>
<circle cx="810.1" cy="387.2" r="1.1" fill="#111"/>
<path d="M816,366 V333 A33,33 0 0 1 849,366" fill="none" stroke="#222" stroke-width="0.9"/>
<path d="M816.3,449.5 V482.5 A33,33 0 0 0 849,449.5" fill="none" stroke="#222" stroke-width="0.9"/>
<text x="890.9" y="350.8" font-family='"Liberation Sans", sans-serif' font-size="10.4" fill="#2a2a2a" font-weight="normal" text-anchor="middle" textLength="39.2" lengthAdjust="spacingAndGlyphs" stroke="#2a2a2a" stroke-width="0.22">Abstellraum</text>
<text x="890.8" y="363" font-family='"Liberation Sans", sans-serif' font-size="10.9" fill="#2a2a2a" font-weight="normal" text-anchor="middle" textLength="29" lengthAdjust="spacingAndGlyphs" stroke="#2a2a2a" stroke-width="0.22">8,82&#160;&#160;m²</text>
<text x="833.8" y="415.8" font-family='"Liberation Sans", sans-serif' font-size="10.4" fill="#2a2a2a" font-weight="normal" text-anchor="middle" textLength="11" lengthAdjust="spacingAndGlyphs" stroke="#2a2a2a" stroke-width="0.22">Flur</text>
<text x="835.9" y="428.8" font-family='"Liberation Sans", sans-serif' font-size="10.9" fill="#2a2a2a" font-weight="normal" text-anchor="middle" textLength="26.7" lengthAdjust="spacingAndGlyphs" stroke="#2a2a2a" stroke-width="0.22">2,19&#160;&#160;m²</text>
<text x="839.9" y="501.7" font-family='"Liberation Sans", sans-serif' font-size="10.6" fill="#2a2a2a" font-weight="normal" text-anchor="middle" textLength="22.6" lengthAdjust="spacingAndGlyphs" stroke="#2a2a2a" stroke-width="0.22">Kind 2</text>
<text x="840.5" y="516" font-family='"Liberation Sans", sans-serif' font-size="11.2" fill="#2a2a2a" font-weight="normal" text-anchor="middle" textLength="28.2" lengthAdjust="spacingAndGlyphs" stroke="#2a2a2a" stroke-width="0.22">17,13&#160;&#160;m²</text>
<text x="788.9" y="357.6" font-family='"Liberation Sans", sans-serif' font-size="11.5" fill="#2a2a2a" font-weight="normal" text-anchor="middle" textLength="24" lengthAdjust="spacingAndGlyphs" stroke="#2a2a2a" stroke-width="0.22">Lüftung</text>
<text x="781.8" y="424.6" font-family='"Liberation Sans", sans-serif' font-size="7.4" fill="#9a9a9a" font-weight="normal" text-anchor="middle" textLength="21.5" lengthAdjust="spacingAndGlyphs">15 STG</text>
<text x="781.6" y="433.7" font-family='"Liberation Sans", sans-serif' font-size="7.4" fill="#9a9a9a" font-weight="normal" text-anchor="middle" textLength="26.6" lengthAdjust="spacingAndGlyphs">19.1/26.0</text>
<rect x="895.5" y="311.6" width="44.9" height="21.7" fill="none" stroke="#b0b0b0" stroke-width="0.8"/>
<line x1="918.5" y1="311.6" x2="918.5" y2="333.3" stroke="#b0b0b0" stroke-width="0.8"/>
<text x="929" y="330.3" font-family='"Liberation Sans", sans-serif' font-size="10.4" fill="#2a2a2a" font-weight="normal" text-anchor="middle" textLength="14" lengthAdjust="spacingAndGlyphs" stroke="#2a2a2a" stroke-width="0.22">WM</text>
<text x="906.8" y="330.3" font-family='"Liberation Sans", sans-serif' font-size="10.4" fill="#2a2a2a" font-weight="normal" text-anchor="middle" textLength="4.2" lengthAdjust="spacingAndGlyphs" stroke="#2a2a2a" stroke-width="0.22">T</text>
<rect x="823.5" y="271.6" width="42.6" height="42.7" fill="none" stroke="#a8a8a8" stroke-width="0.8" stroke-dasharray="5,2.5"/>
<polygon points="844.8,271.6 823.5,292.95 844.8,314.3 866.1,292.95" fill="none" stroke="#a8a8a8" stroke-width="0.7" stroke-linejoin="miter" stroke-dasharray="6,2.5"/>
<text x="844.8" y="265.7" font-family='"Liberation Sans", sans-serif' font-size="8.6" fill="#8a8a8a" font-weight="normal" text-anchor="middle" textLength="24.7" lengthAdjust="spacingAndGlyphs" stroke="#8a8a8a" stroke-width="0.1">1.14x1.40</text>
<text x="844.8" y="296.3" font-family='"Liberation Sans", sans-serif' font-size="10.4" fill="#2a2a2a" font-weight="normal" text-anchor="middle" textLength="12.1" lengthAdjust="spacingAndGlyphs" stroke="#2a2a2a" stroke-width="0.22">DFF</text>
<rect x="865.1" y="402.4" width="74" height="36.9" fill="none" stroke="#b0b0b0" stroke-width="0.8"/>
<polyline points="922.5,425.8 922.5,404.4 867.1,404.4 867.1,437.3 911,437.3" fill="none" stroke="#b0b0b0" stroke-width="0.8" stroke-linejoin="miter"/>
<line x1="911" y1="437.3" x2="922.5" y2="425.8" stroke="#a0a0a0" stroke-width="0.9"/>
<line x1="911" y1="425.8" x2="922.5" y2="425.8" stroke="#a0a0a0" stroke-width="0.9"/>
<line x1="911" y1="425.8" x2="911" y2="437.3" stroke="#d0d0d0" stroke-width="0.7"/>
<rect x="924.5" y="404.4" width="12.6" height="32.9" fill="none" stroke="#b0b0b0" stroke-width="0.8"/>
<rect x="930.8" y="454.7" width="11.8" height="66.1" fill="none" stroke="#b0b0b0" stroke-width="0.8"/>
<line x1="942.6" y1="487.4" x2="930.8" y2="487.4" stroke="#b0b0b0" stroke-width="0.8"/>
<g transform="translate(909.4 542.4) rotate(-15)">
<path d="M-8.5,-7 Q-8.5,-10 -5,-10 L5,-10 Q8.5,-10 8.5,-7 L8.5,6 Q8.5,10 4,10.5 L-4,10.5 Q-8.5,10 -8.5,6 Z" fill="none" stroke="#b0b0b0" stroke-width="0.8"/>
<path d="M-6,-8 L6,-8 M-10,-5 L-10,5 M-8.5,-5 L-8.5,5 M10,-5 L10,5 M8.5,-5 L8.5,5" fill="none" stroke="#b0b0b0" stroke-width="0.7"/>
</g>
<rect x="876.3" y="547.7" width="68.2" height="25.7" fill="none" stroke="#b0b0b0" stroke-width="0.8"/>
<rect x="855.9" y="548.5" width="42.3" height="42.3" fill="none" stroke="#a8a8a8" stroke-width="0.8" stroke-dasharray="5,2.5"/>
<polygon points="877.05,548.5 855.9,569.65 877.05,590.8 898.2,569.65" fill="none" stroke="#a8a8a8" stroke-width="0.7" stroke-linejoin="miter" stroke-dasharray="6,2.5"/>
<rect x="811.9" y="548.5" width="42.3" height="42.3" fill="none" stroke="#a8a8a8" stroke-width="0.8" stroke-dasharray="5,2.5"/>
<polygon points="833.05,548.5 811.9,569.65 833.05,590.8 854.2,569.65" fill="none" stroke="#a8a8a8" stroke-width="0.7" stroke-linejoin="miter" stroke-dasharray="6,2.5"/>
<rect x="802.1" y="554.5" width="59.5" height="24.4" fill="none" stroke="#b0b0b0" stroke-width="0.8"/>
<rect x="808.1" y="548.5" width="48" height="24.9" fill="none" stroke="#b0b0b0" stroke-width="0.8"/>
<text x="877" y="568.3" font-family='"Liberation Sans", sans-serif' font-size="10.4" fill="#2a2a2a" font-weight="normal" text-anchor="middle" textLength="12.1" lengthAdjust="spacingAndGlyphs" stroke="#2a2a2a" stroke-width="0.22">DFF</text>
<text x="833" y="568.3" font-family='"Liberation Sans", sans-serif' font-size="10.4" fill="#2a2a2a" font-weight="normal" text-anchor="middle" textLength="12.1" lengthAdjust="spacingAndGlyphs" stroke="#2a2a2a" stroke-width="0.22">DFF</text>
<text x="857.4" y="601" font-family='"Liberation Sans", sans-serif' font-size="8.6" fill="#8a8a8a" font-weight="normal" text-anchor="middle" textLength="33" lengthAdjust="spacingAndGlyphs" stroke="#8a8a8a" stroke-width="0.1">2x1.14/1.40</text>
<rect x="956.6" y="371.3" width="86" height="22.7" fill="none" stroke="#b5b5b5" stroke-width="0.8"/>
<line x1="1000.3" y1="371.3" x2="1000.3" y2="394" stroke="#b5b5b5" stroke-width="0.8"/>
<line x1="956.6" y1="371.3" x2="1000.3" y2="394" stroke="#b5b5b5" stroke-width="0.7"/>
<line x1="956.6" y1="394" x2="1000.3" y2="371.3" stroke="#b5b5b5" stroke-width="0.7"/>
<line x1="1000.3" y1="371.3" x2="1042.6" y2="394" stroke="#b5b5b5" stroke-width="0.7"/>
<line x1="1000.3" y1="394" x2="1042.6" y2="371.3" stroke="#b5b5b5" stroke-width="0.7"/>
<rect x="1109.4" y="497.2" width="22.6" height="45.6" fill="none" stroke="#b5b5b5" stroke-width="0.8"/>
<line x1="1109.4" y1="497.2" x2="1132" y2="542.8" stroke="#b5b5b5" stroke-width="0.7"/>
<line x1="1109.4" y1="542.8" x2="1132" y2="497.2" stroke="#b5b5b5" stroke-width="0.7"/>
<rect x="1097" y="342.4" width="22.7" height="18.9" fill="none" stroke="#222" stroke-width="0.9"/>
<polygon points="1042.6,366 1051.4,366 1051.4,370.7 1047.7,370.7 1047.7,445.3 1051.4,445.3 1051.4,449.3 1042.6,449.3 1042.6,398.7 956.6,398.7 956.6,394 1042.6,394" fill="#c6c6c6" stroke="#111" stroke-width="1.2" stroke-linejoin="miter"/>
<rect x="1083.7" y="365.7" width="48.5" height="5" fill="#d2d2d2" stroke="#111" stroke-width="1.2"/>
<polygon points="1084,445.2 1092.4,445.2 1092.4,491.9 1132.2,491.9 1132.2,497 1088.1,497 1088.1,449.5 1084,449.5" fill="#b4b4b4" stroke="#111" stroke-width="1.2" stroke-linejoin="miter"/>
<line x1="1089.5" y1="370.7" x2="1089.5" y2="404" stroke="#222" stroke-width="0.9"/>
<rect x="1088.6" y="404" width="2" height="41.2" fill="#cfcfcf" stroke="none" stroke-width="0"/>
<polyline points="1089.5,404 1097.2,404 1099.2,406.5 1099.2,452 1096.2,458.6 1092.4,458.6" fill="none" stroke="#222" stroke-width="0.9" stroke-linejoin="miter"/>
<line x1="1094.2" y1="404" x2="1104.3" y2="370.7" stroke="#1a1a1a" stroke-width="0.9"/>
<line x1="1096.2" y1="404" x2="1124.6" y2="370.7" stroke="#1a1a1a" stroke-width="0.9"/>
<line x1="1099.2" y1="407" x2="1132.2" y2="386" stroke="#1a1a1a" stroke-width="0.9"/>
<line x1="1099.2" y1="411.7" x2="1132.2" y2="402.9" stroke="#1a1a1a" stroke-width="0.9"/>
<line x1="1099.2" y1="451" x2="1132.2" y2="459.6" stroke="#1a1a1a" stroke-width="0.9"/>
<line x1="1099.2" y1="455.3" x2="1132.2" y2="476.4" stroke="#1a1a1a" stroke-width="0.9"/>
<line x1="1096.3" y1="458.6" x2="1125.5" y2="491.9" stroke="#1a1a1a" stroke-width="0.9"/>
<line x1="1093.4" y1="459.1" x2="1105.4" y2="491.9" stroke="#1a1a1a" stroke-width="0.9"/>
<line x1="1099.2" y1="417" x2="1132.2" y2="417" stroke="#444" stroke-width="1.6"/>
<line x1="1099.2" y1="426.7" x2="1132.2" y2="426.7" stroke="#1a1a1a" stroke-width="0.9"/>
<line x1="1099.2" y1="436.6" x2="1132.2" y2="436.6" stroke="#1a1a1a" stroke-width="0.9"/>
<line x1="1099.2" y1="445.9" x2="1132.2" y2="445.9" stroke="#444" stroke-width="1.6"/>
<path d="M1089.8,387.2 H1098.9 A16.9,16.9 0 0 1 1115.8,404.1 V457.2 A16.5,16.5 0 0 1 1099.3,473.7 H1090.5" fill="none" stroke="#222" stroke-width="0.9"/>
<polygon points="1090,387.2 1093.6,383.8 1093.6,390.8" fill="white" stroke="#222" stroke-width="0.9" stroke-linejoin="miter"/>
<circle cx="1090.2" cy="387.2" r="1.1" fill="#111"/>
<path d="M1084.3,366 V333 A33,33 0 0 0 1051.3,366" fill="none" stroke="#222" stroke-width="0.9"/>
<path d="M1084,449.5 V482.5 A33,33 0 0 1 1051.3,449.5" fill="none" stroke="#222" stroke-width="0.9"/>
<text x="1009.4" y="350.8" font-family='"Liberation Sans", sans-serif' font-size="10.4" fill="#2a2a2a" font-weight="normal" text-anchor="middle" textLength="39.2" lengthAdjust="spacingAndGlyphs" stroke="#2a2a2a" stroke-width="0.22">Abstellraum</text>
<text x="1009.5" y="363" font-family='"Liberation Sans", sans-serif' font-size="10.9" fill="#2a2a2a" font-weight="normal" text-anchor="middle" textLength="29" lengthAdjust="spacingAndGlyphs" stroke="#2a2a2a" stroke-width="0.22">8,82&#160;&#160;m²</text>
<text x="1066.5" y="415.8" font-family='"Liberation Sans", sans-serif' font-size="10.4" fill="#2a2a2a" font-weight="normal" text-anchor="middle" textLength="11" lengthAdjust="spacingAndGlyphs" stroke="#2a2a2a" stroke-width="0.22">Flur</text>
<text x="1064.4" y="428.8" font-family='"Liberation Sans", sans-serif' font-size="10.9" fill="#2a2a2a" font-weight="normal" text-anchor="middle" textLength="26.7" lengthAdjust="spacingAndGlyphs" stroke="#2a2a2a" stroke-width="0.22">2,19&#160;&#160;m²</text>
<text x="1060.4" y="501.7" font-family='"Liberation Sans", sans-serif' font-size="10.6" fill="#2a2a2a" font-weight="normal" text-anchor="middle" textLength="22.6" lengthAdjust="spacingAndGlyphs" stroke="#2a2a2a" stroke-width="0.22">Kind 2</text>
<text x="1059.8" y="516" font-family='"Liberation Sans", sans-serif' font-size="11.2" fill="#2a2a2a" font-weight="normal" text-anchor="middle" textLength="28.2" lengthAdjust="spacingAndGlyphs" stroke="#2a2a2a" stroke-width="0.22">17,13&#160;&#160;m²</text>
<text x="1111.4" y="357.6" font-family='"Liberation Sans", sans-serif' font-size="11.5" fill="#2a2a2a" font-weight="normal" text-anchor="middle" textLength="24" lengthAdjust="spacingAndGlyphs" stroke="#2a2a2a" stroke-width="0.22">Lüftung</text>
<text x="1118.5" y="424.6" font-family='"Liberation Sans", sans-serif' font-size="7.4" fill="#9a9a9a" font-weight="normal" text-anchor="middle" textLength="21.5" lengthAdjust="spacingAndGlyphs">15 STG</text>
<text x="1118.7" y="433.7" font-family='"Liberation Sans", sans-serif' font-size="7.4" fill="#9a9a9a" font-weight="normal" text-anchor="middle" textLength="26.6" lengthAdjust="spacingAndGlyphs">19.1/26.0</text>
<rect x="959.9" y="311.6" width="44.9" height="21.7" fill="none" stroke="#b0b0b0" stroke-width="0.8"/>
<line x1="981.8" y1="311.6" x2="981.8" y2="333.3" stroke="#b0b0b0" stroke-width="0.8"/>
<text x="971.3" y="330.3" font-family='"Liberation Sans", sans-serif' font-size="10.4" fill="#2a2a2a" font-weight="normal" text-anchor="middle" textLength="14" lengthAdjust="spacingAndGlyphs" stroke="#2a2a2a" stroke-width="0.22">WM</text>
<text x="993.5" y="330.3" font-family='"Liberation Sans", sans-serif' font-size="10.4" fill="#2a2a2a" font-weight="normal" text-anchor="middle" textLength="4.2" lengthAdjust="spacingAndGlyphs" stroke="#2a2a2a" stroke-width="0.22">T</text>
<rect x="1034.2" y="271.6" width="42.6" height="42.7" fill="none" stroke="#a8a8a8" stroke-width="0.8" stroke-dasharray="5,2.5"/>
<polygon points="1055.5,271.6 1076.8,292.95 1055.5,314.3 1034.2,292.95" fill="none" stroke="#a8a8a8" stroke-width="0.7" stroke-linejoin="miter" stroke-dasharray="6,2.5"/>
<text x="1055.5" y="265.7" font-family='"Liberation Sans", sans-serif' font-size="8.6" fill="#8a8a8a" font-weight="normal" text-anchor="middle" textLength="24.7" lengthAdjust="spacingAndGlyphs" stroke="#8a8a8a" stroke-width="0.1">1.14x1.40</text>
<text x="1055.5" y="296.3" font-family='"Liberation Sans", sans-serif' font-size="10.4" fill="#2a2a2a" font-weight="normal" text-anchor="middle" textLength="12.1" lengthAdjust="spacingAndGlyphs" stroke="#2a2a2a" stroke-width="0.22">DFF</text>
<rect x="961.2" y="402.4" width="74" height="36.9" fill="none" stroke="#b0b0b0" stroke-width="0.8"/>
<polyline points="977.8,425.8 977.8,404.4 1033.2,404.4 1033.2,437.3 989.3,437.3" fill="none" stroke="#b0b0b0" stroke-width="0.8" stroke-linejoin="miter"/>
<line x1="989.3" y1="437.3" x2="977.8" y2="425.8" stroke="#a0a0a0" stroke-width="0.9"/>
<line x1="989.3" y1="425.8" x2="977.8" y2="425.8" stroke="#a0a0a0" stroke-width="0.9"/>
<line x1="989.3" y1="425.8" x2="989.3" y2="437.3" stroke="#d0d0d0" stroke-width="0.7"/>
<rect x="963.2" y="404.4" width="12.6" height="32.9" fill="none" stroke="#b0b0b0" stroke-width="0.8"/>
<rect x="957.7" y="454.7" width="11.8" height="66.1" fill="none" stroke="#b0b0b0" stroke-width="0.8"/>
<line x1="957.7" y1="487.4" x2="969.5" y2="487.4" stroke="#b0b0b0" stroke-width="0.8"/>
<g transform="translate(990.9 542.4) rotate(15)">
<path d="M-8.5,-7 Q-8.5,-10 -5,-10 L5,-10 Q8.5,-10 8.5,-7 L8.5,6 Q8.5,10 4,10.5 L-4,10.5 Q-8.5,10 -8.5,6 Z" fill="none" stroke="#b0b0b0" stroke-width="0.8"/>
<path d="M-6,-8 L6,-8 M-10,-5 L-10,5 M-8.5,-5 L-8.5,5 M10,-5 L10,5 M8.5,-5 L8.5,5" fill="none" stroke="#b0b0b0" stroke-width="0.7"/>
</g>
<rect x="955.8" y="547.7" width="68.2" height="25.7" fill="none" stroke="#b0b0b0" stroke-width="0.8"/>
<rect x="1002.1" y="548.5" width="42.3" height="42.3" fill="none" stroke="#a8a8a8" stroke-width="0.8" stroke-dasharray="5,2.5"/>
<polygon points="1023.25,548.5 1044.4,569.65 1023.25,590.8 1002.1,569.65" fill="none" stroke="#a8a8a8" stroke-width="0.7" stroke-linejoin="miter" stroke-dasharray="6,2.5"/>
<rect x="1046.1" y="548.5" width="42.3" height="42.3" fill="none" stroke="#a8a8a8" stroke-width="0.8" stroke-dasharray="5,2.5"/>
<polygon points="1067.25,548.5 1088.4,569.65 1067.25,590.8 1046.1,569.65" fill="none" stroke="#a8a8a8" stroke-width="0.7" stroke-linejoin="miter" stroke-dasharray="6,2.5"/>
<rect x="1038.7" y="554.5" width="59.5" height="24.4" fill="none" stroke="#b0b0b0" stroke-width="0.8"/>
<rect x="1044.2" y="548.5" width="48" height="24.9" fill="none" stroke="#b0b0b0" stroke-width="0.8"/>
<text x="1023.3" y="568.3" font-family='"Liberation Sans", sans-serif' font-size="10.4" fill="#2a2a2a" font-weight="normal" text-anchor="middle" textLength="12.1" lengthAdjust="spacingAndGlyphs" stroke="#2a2a2a" stroke-width="0.22">DFF</text>
<text x="1067.3" y="568.3" font-family='"Liberation Sans", sans-serif' font-size="10.4" fill="#2a2a2a" font-weight="normal" text-anchor="middle" textLength="12.1" lengthAdjust="spacingAndGlyphs" stroke="#2a2a2a" stroke-width="0.22">DFF</text>
<text x="1042.9" y="601" font-family='"Liberation Sans", sans-serif' font-size="8.6" fill="#8a8a8a" font-weight="normal" text-anchor="middle" textLength="33" lengthAdjust="spacingAndGlyphs" stroke="#8a8a8a" stroke-width="0.1">2x1.14/1.40</text>
<rect x="1233.2" y="371.3" width="86" height="22.7" fill="none" stroke="#b5b5b5" stroke-width="0.8"/>
<line x1="1275.5" y1="371.3" x2="1275.5" y2="394" stroke="#b5b5b5" stroke-width="0.8"/>
<line x1="1319.2" y1="371.3" x2="1275.5" y2="394" stroke="#b5b5b5" stroke-width="0.7"/>
<line x1="1319.2" y1="394" x2="1275.5" y2="371.3" stroke="#b5b5b5" stroke-width="0.7"/>
<line x1="1275.5" y1="371.3" x2="1233.2" y2="394" stroke="#b5b5b5" stroke-width="0.7"/>
<line x1="1275.5" y1="394" x2="1233.2" y2="371.3" stroke="#b5b5b5" stroke-width="0.7"/>
<rect x="1143.8" y="497.2" width="22.6" height="45.6" fill="none" stroke="#b5b5b5" stroke-width="0.8"/>
<line x1="1166.4" y1="497.2" x2="1143.8" y2="542.8" stroke="#b5b5b5" stroke-width="0.7"/>
<line x1="1166.4" y1="542.8" x2="1143.8" y2="497.2" stroke="#b5b5b5" stroke-width="0.7"/>
<rect x="1156.1" y="342.4" width="22.7" height="18.9" fill="none" stroke="#222" stroke-width="0.9"/>
<polygon points="1233.2,366 1224.4,366 1224.4,370.7 1228.1,370.7 1228.1,445.3 1224.4,445.3 1224.4,449.3 1233.2,449.3 1233.2,398.7 1319.2,398.7 1319.2,394 1233.2,394" fill="#c6c6c6" stroke="#111" stroke-width="1.2" stroke-linejoin="miter"/>
<rect x="1143.6" y="365.7" width="48.5" height="5" fill="#d2d2d2" stroke="#111" stroke-width="1.2"/>
<polygon points="1191.8,445.2 1183.4,445.2 1183.4,491.9 1143.6,491.9 1143.6,497 1187.7,497 1187.7,449.5 1191.8,449.5" fill="#b4b4b4" stroke="#111" stroke-width="1.2" stroke-linejoin="miter"/>
<line x1="1186.3" y1="370.7" x2="1186.3" y2="404" stroke="#222" stroke-width="0.9"/>
<rect x="1185.2" y="404" width="2" height="41.2" fill="#cfcfcf" stroke="none" stroke-width="0"/>
<polyline points="1186.3,404 1178.6,404 1176.6,406.5 1176.6,452 1179.6,458.6 1183.4,458.6" fill="none" stroke="#222" stroke-width="0.9" stroke-linejoin="miter"/>
<line x1="1181.6" y1="404" x2="1171.5" y2="370.7" stroke="#1a1a1a" stroke-width="0.9"/>
<line x1="1179.6" y1="404" x2="1151.2" y2="370.7" stroke="#1a1a1a" stroke-width="0.9"/>
<line x1="1176.6" y1="407" x2="1143.6" y2="386" stroke="#1a1a1a" stroke-width="0.9"/>
<line x1="1176.6" y1="411.7" x2="1143.6" y2="402.9" stroke="#1a1a1a" stroke-width="0.9"/>
<line x1="1176.6" y1="451" x2="1143.6" y2="459.6" stroke="#1a1a1a" stroke-width="0.9"/>
<line x1="1176.6" y1="455.3" x2="1143.6" y2="476.4" stroke="#1a1a1a" stroke-width="0.9"/>
<line x1="1179.5" y1="458.6" x2="1150.3" y2="491.9" stroke="#1a1a1a" stroke-width="0.9"/>
<line x1="1182.4" y1="459.1" x2="1170.4" y2="491.9" stroke="#1a1a1a" stroke-width="0.9"/>
<line x1="1176.6" y1="417" x2="1143.6" y2="417" stroke="#444" stroke-width="1.6"/>
<line x1="1176.6" y1="426.7" x2="1143.6" y2="426.7" stroke="#1a1a1a" stroke-width="0.9"/>
<line x1="1176.6" y1="436.6" x2="1143.6" y2="436.6" stroke="#1a1a1a" stroke-width="0.9"/>
<line x1="1176.6" y1="445.9" x2="1143.6" y2="445.9" stroke="#444" stroke-width="1.6"/>
<path d="M1186,387.2 H1176.9 A16.9,16.9 0 0 0 1160,404.1 V457.2 A16.5,16.5 0 0 0 1176.5,473.7 H1185.3" fill="none" stroke="#222" stroke-width="0.9"/>
<polygon points="1185.8,387.2 1182.2,383.8 1182.2,390.8" fill="white" stroke="#222" stroke-width="0.9" stroke-linejoin="miter"/>
<circle cx="1185.6" cy="387.2" r="1.1" fill="#111"/>
<path d="M1191.5,366 V333 A33,33 0 0 1 1224.5,366" fill="none" stroke="#222" stroke-width="0.9"/>
<path d="M1191.8,449.5 V482.5 A33,33 0 0 0 1224.5,449.5" fill="none" stroke="#222" stroke-width="0.9"/>
<text x="1266.4" y="350.8" font-family='"Liberation Sans", sans-serif' font-size="10.4" fill="#2a2a2a" font-weight="normal" text-anchor="middle" textLength="39.2" lengthAdjust="spacingAndGlyphs" stroke="#2a2a2a" stroke-width="0.22">Abstellraum</text>
<text x="1266.3" y="363" font-family='"Liberation Sans", sans-serif' font-size="10.9" fill="#2a2a2a" font-weight="normal" text-anchor="middle" textLength="29" lengthAdjust="spacingAndGlyphs" stroke="#2a2a2a" stroke-width="0.22">8,82&#160;&#160;m²</text>
<text x="1209.3" y="415.8" font-family='"Liberation Sans", sans-serif' font-size="10.4" fill="#2a2a2a" font-weight="normal" text-anchor="middle" textLength="11" lengthAdjust="spacingAndGlyphs" stroke="#2a2a2a" stroke-width="0.22">Flur</text>
<text x="1211.4" y="428.8" font-family='"Liberation Sans", sans-serif' font-size="10.9" fill="#2a2a2a" font-weight="normal" text-anchor="middle" textLength="26.7" lengthAdjust="spacingAndGlyphs" stroke="#2a2a2a" stroke-width="0.22">2,19&#160;&#160;m²</text>
<text x="1215.4" y="501.7" font-family='"Liberation Sans", sans-serif' font-size="10.6" fill="#2a2a2a" font-weight="normal" text-anchor="middle" textLength="22.6" lengthAdjust="spacingAndGlyphs" stroke="#2a2a2a" stroke-width="0.22">Kind 2</text>
<text x="1216" y="516" font-family='"Liberation Sans", sans-serif' font-size="11.2" fill="#2a2a2a" font-weight="normal" text-anchor="middle" textLength="28.2" lengthAdjust="spacingAndGlyphs" stroke="#2a2a2a" stroke-width="0.22">17,13&#160;&#160;m²</text>
<text x="1164.4" y="357.6" font-family='"Liberation Sans", sans-serif' font-size="11.5" fill="#2a2a2a" font-weight="normal" text-anchor="middle" textLength="24" lengthAdjust="spacingAndGlyphs" stroke="#2a2a2a" stroke-width="0.22">Lüftung</text>
<text x="1157.3" y="424.6" font-family='"Liberation Sans", sans-serif' font-size="7.4" fill="#9a9a9a" font-weight="normal" text-anchor="middle" textLength="21.5" lengthAdjust="spacingAndGlyphs">15 STG</text>
<text x="1157.1" y="433.7" font-family='"Liberation Sans", sans-serif' font-size="7.4" fill="#9a9a9a" font-weight="normal" text-anchor="middle" textLength="26.6" lengthAdjust="spacingAndGlyphs">19.1/26.0</text>
<rect x="1271.1" y="311.3" width="44.4" height="22.7" fill="none" stroke="#b0b0b0" stroke-width="0.8"/>
<line x1="1293.5" y1="311.3" x2="1293.5" y2="334" stroke="#b0b0b0" stroke-width="0.8"/>
<text x="1304" y="330.6" font-family='"Liberation Sans", sans-serif' font-size="10.4" fill="#2a2a2a" font-weight="normal" text-anchor="middle" textLength="14" lengthAdjust="spacingAndGlyphs" stroke="#2a2a2a" stroke-width="0.22">WM</text>
<text x="1281.8" y="330.6" font-family='"Liberation Sans", sans-serif' font-size="10.4" fill="#2a2a2a" font-weight="normal" text-anchor="middle" textLength="4.2" lengthAdjust="spacingAndGlyphs" stroke="#2a2a2a" stroke-width="0.22">T</text>
<rect x="1198.5" y="284.4" width="21" height="30" fill="none" stroke="#a8a8a8" stroke-width="0.8" stroke-dasharray="5,2.5"/>
<polygon points="1209,284.4 1198.5,299.4 1209,314.4 1219.5,299.4" fill="none" stroke="#a8a8a8" stroke-width="0.7" stroke-linejoin="miter" stroke-dasharray="6,2.5"/>
<text x="1209.1" y="281.5" font-family='"Liberation Sans", sans-serif' font-size="8.6" fill="#8a8a8a" font-weight="normal" text-anchor="middle" textLength="19.2" lengthAdjust="spacingAndGlyphs" stroke="#8a8a8a" stroke-width="0.1">55x98</text>
<text x="1208.4" y="302.7" font-family='"Liberation Sans", sans-serif' font-size="10.4" fill="#2a2a2a" font-weight="normal" text-anchor="middle" textLength="12.1" lengthAdjust="spacingAndGlyphs" stroke="#2a2a2a" stroke-width="0.22">DFF</text>
<rect x="1245.5" y="398.7" width="60" height="24.6" fill="none" stroke="#b0b0b0" stroke-width="0.8"/>
<rect x="1251.1" y="404.7" width="48.4" height="24" fill="none" stroke="#b0b0b0" stroke-width="0.8"/>
<rect x="1305.1" y="478.1" width="12.3" height="66.1" fill="none" stroke="#b0b0b0" stroke-width="0.8"/>
<line x1="1317.4" y1="511.6" x2="1305.1" y2="511.6" stroke="#b0b0b0" stroke-width="0.8"/>
<text x="1214.5" y="541.8" font-family='"Liberation Sans", sans-serif' font-size="10.4" fill="#2a2a2a" font-weight="normal" text-anchor="middle" textLength="44.4" lengthAdjust="spacingAndGlyphs" stroke="#2a2a2a" stroke-width="0.22">2,0&#160;&#160;m&#160;&#160;Linie</text>
<g transform="translate(1259.3 543.2) rotate(-15)">
<path d="M-8.5,-7 Q-8.5,-10 -5,-10 L5,-10 Q8.5,-10 8.5,-7 L8.5,6 Q8.5,10 4,10.5 L-4,10.5 Q-8.5,10 -8.5,6 Z" fill="none" stroke="#b0b0b0" stroke-width="0.8"/>
<path d="M-6,-8 L6,-8 M-10,-5 L-10,5 M-8.5,-5 L-8.5,5 M10,-5 L10,5 M8.5,-5 L8.5,5" fill="none" stroke="#b0b0b0" stroke-width="0.7"/>
</g>
<rect x="1225" y="548.7" width="67.9" height="25.6" fill="none" stroke="#b0b0b0" stroke-width="0.8"/>
<rect x="1210.3" y="548.4" width="42.4" height="42" fill="none" stroke="#a8a8a8" stroke-width="0.8" stroke-dasharray="5,2.5"/>
<polygon points="1231.5,548.4 1210.3,569.4 1231.5,590.4 1252.7,569.4" fill="none" stroke="#a8a8a8" stroke-width="0.7" stroke-linejoin="miter" stroke-dasharray="6,2.5"/>
<text x="1230.3" y="567.6" font-family='"Liberation Sans", sans-serif' font-size="10.4" fill="#2a2a2a" font-weight="normal" text-anchor="middle" textLength="12.1" lengthAdjust="spacingAndGlyphs" stroke="#2a2a2a" stroke-width="0.22">DFF</text>
<rect x="1145.1" y="548.4" width="73.6" height="37.1" fill="none" stroke="#b0b0b0" stroke-width="0.8"/>
<polyline points="1161.1,571.9 1161.1,550.5 1216.6,550.5 1216.6,583.4 1172.6,583.4" fill="none" stroke="#b0b0b0" stroke-width="0.8" stroke-linejoin="miter"/>
<line x1="1172.6" y1="583.4" x2="1161.1" y2="571.9" stroke="#a0a0a0" stroke-width="0.9"/>
<line x1="1172.6" y1="571.9" x2="1161.1" y2="571.9" stroke="#a0a0a0" stroke-width="0.9"/>
<line x1="1172.6" y1="571.9" x2="1172.6" y2="583.4" stroke="#d0d0d0" stroke-width="0.7"/>
<rect x="1146.2" y="550.5" width="13.2" height="32.9" fill="none" stroke="#b0b0b0" stroke-width="0.8"/>
<text x="1232.3" y="600.4" font-family='"Liberation Sans", sans-serif' font-size="8.6" fill="#8a8a8a" font-weight="normal" text-anchor="middle" textLength="25.3" lengthAdjust="spacingAndGlyphs" stroke="#8a8a8a" stroke-width="0.1">1.14/1.40</text>
<line x1="176.4" y1="234" x2="176.4" y2="647.3" stroke="#999" stroke-width="0.8" stroke-dasharray="5,3"/>
<line x1="189.4" y1="234" x2="189.4" y2="647.3" stroke="#1a1a1a" stroke-width="1.1"/>
<rect x="198.4" y="234" width="7.2" height="173.3" fill="#a6a6a6" stroke="#111" stroke-width="1.2"/>
<rect x="198.4" y="473" width="7.2" height="174.3" fill="#a6a6a6" stroke="#111" stroke-width="1.2"/>
<line x1="189.4" y1="407.3" x2="205.6" y2="407.3" stroke="#111" stroke-width="1.1"/>
<line x1="189.4" y1="473" x2="205.6" y2="473" stroke="#111" stroke-width="1.1"/>
<line x1="195.5" y1="407.3" x2="195.5" y2="473" stroke="#555" stroke-width="0.7"/>
<line x1="198.7" y1="407.3" x2="198.7" y2="473" stroke="#555" stroke-width="0.7"/>
<line x1="205.2" y1="407.3" x2="205.2" y2="473" stroke="#555" stroke-width="0.7"/>
<line x1="195.5" y1="412" x2="198.7" y2="412" stroke="#555" stroke-width="0.7"/>
<line x1="195.5" y1="440" x2="198.7" y2="440" stroke="#555" stroke-width="0.7"/>
<line x1="195.5" y1="468" x2="198.7" y2="468" stroke="#555" stroke-width="0.7"/>
<line x1="1348.4" y1="234" x2="1348.4" y2="647.3" stroke="#999" stroke-width="0.8" stroke-dasharray="5,3"/>
<line x1="1335.4" y1="234" x2="1335.4" y2="647.3" stroke="#1a1a1a" stroke-width="1.1"/>
<rect x="1319.2" y="234" width="7.2" height="173.3" fill="#a6a6a6" stroke="#111" stroke-width="1.2"/>
<rect x="1319.2" y="473" width="7.2" height="174.3" fill="#a6a6a6" stroke="#111" stroke-width="1.2"/>
<line x1="1335.4" y1="407.3" x2="1319.2" y2="407.3" stroke="#111" stroke-width="1.1"/>
<line x1="1335.4" y1="473" x2="1319.2" y2="473" stroke="#111" stroke-width="1.1"/>
<line x1="1329.3" y1="407.3" x2="1329.3" y2="473" stroke="#555" stroke-width="0.7"/>
<line x1="1326.1" y1="407.3" x2="1326.1" y2="473" stroke="#555" stroke-width="0.7"/>
<line x1="1319.6" y1="407.3" x2="1319.6" y2="473" stroke="#555" stroke-width="0.7"/>
<line x1="1329.3" y1="412" x2="1326.1" y2="412" stroke="#555" stroke-width="0.7"/>
<line x1="1329.3" y1="440" x2="1326.1" y2="440" stroke="#555" stroke-width="0.7"/>
<line x1="1329.3" y1="468" x2="1326.1" y2="468" stroke="#555" stroke-width="0.7"/>
<line x1="387.15" y1="183.5" x2="387.15" y2="701" stroke="#888" stroke-width="0.7" stroke-dasharray="6,2,1,2"/>
<rect x="381.55" y="234" width="11.2" height="413.3" fill="#676767" stroke="#111" stroke-width="1.3"/>
<line x1="574.85" y1="183.5" x2="574.85" y2="701" stroke="#888" stroke-width="0.7" stroke-dasharray="6,2,1,2"/>
<rect x="569.25" y="234" width="11.2" height="413.3" fill="#676767" stroke="#111" stroke-width="1.3"/>
<line x1="762.55" y1="183.5" x2="762.55" y2="701" stroke="#888" stroke-width="0.7" stroke-dasharray="6,2,1,2"/>
<rect x="756.95" y="234" width="11.2" height="413.3" fill="#676767" stroke="#111" stroke-width="1.3"/>
<line x1="950.25" y1="183.5" x2="950.25" y2="701" stroke="#888" stroke-width="0.7" stroke-dasharray="6,2,1,2"/>
<rect x="944.65" y="234" width="11.2" height="413.3" fill="#676767" stroke="#111" stroke-width="1.3"/>
<line x1="1137.95" y1="183.5" x2="1137.95" y2="701" stroke="#888" stroke-width="0.7" stroke-dasharray="6,2,1,2"/>
<rect x="1132.35" y="234" width="11.2" height="413.3" fill="#676767" stroke="#111" stroke-width="1.3"/>
<rect x="176.1" y="199.7" width="1172.6" height="34.3" fill="#e2e2e2" stroke="#333" stroke-width="1.3"/>
<line x1="189.2" y1="218.3" x2="1335.6" y2="218.3" stroke="#ababab" stroke-width="0.8" stroke-dasharray="7,2.5"/>
<line x1="198.4" y1="227.5" x2="1326.4" y2="227.5" stroke="#ababab" stroke-width="0.8" stroke-dasharray="7,2.5"/>
<rect x="176.1" y="647.3" width="1172.6" height="34.3" fill="#e2e2e2" stroke="#333" stroke-width="1.3"/>
<line x1="189.2" y1="663.3" x2="1335.6" y2="663.3" stroke="#ababab" stroke-width="0.8" stroke-dasharray="7,2.5"/>
<line x1="198.4" y1="653.8" x2="1326.4" y2="653.8" stroke="#ababab" stroke-width="0.8" stroke-dasharray="7,2.5"/>
<line x1="189.2" y1="218.3" x2="189.2" y2="234" stroke="#a0a0a0" stroke-width="0.8" stroke-dasharray="4,3"/>
<line x1="198.4" y1="227.5" x2="198.4" y2="234" stroke="#a0a0a0" stroke-width="0.8" stroke-dasharray="4,3"/>
<line x1="189.2" y1="647.3" x2="189.2" y2="663.3" stroke="#a0a0a0" stroke-width="0.8" stroke-dasharray="4,3"/>
<line x1="198.4" y1="647.3" x2="198.4" y2="653.8" stroke="#a0a0a0" stroke-width="0.8" stroke-dasharray="4,3"/>
<line x1="1335.6" y1="218.3" x2="1335.6" y2="234" stroke="#a0a0a0" stroke-width="0.8" stroke-dasharray="4,3"/>
<line x1="1326.4" y1="227.5" x2="1326.4" y2="234" stroke="#a0a0a0" stroke-width="0.8" stroke-dasharray="4,3"/>
<line x1="1335.6" y1="647.3" x2="1335.6" y2="663.3" stroke="#a0a0a0" stroke-width="0.8" stroke-dasharray="4,3"/>
<line x1="1326.4" y1="647.3" x2="1326.4" y2="653.8" stroke="#a0a0a0" stroke-width="0.8" stroke-dasharray="4,3"/>
<line x1="387.15" y1="199.7" x2="387.15" y2="234" stroke="#999" stroke-width="0.6"/>
<line x1="387.15" y1="647.3" x2="387.15" y2="681.6" stroke="#999" stroke-width="0.6"/>
<line x1="381.25" y1="227.5" x2="381.25" y2="234" stroke="#999" stroke-width="0.6"/>
<line x1="381.25" y1="647.3" x2="381.25" y2="653.8" stroke="#999" stroke-width="0.6"/>
<line x1="393.05" y1="227.5" x2="393.05" y2="234" stroke="#999" stroke-width="0.6"/>
<line x1="393.05" y1="647.3" x2="393.05" y2="653.8" stroke="#999" stroke-width="0.6"/>
<line x1="574.85" y1="199.7" x2="574.85" y2="234" stroke="#999" stroke-width="0.6"/>
<line x1="574.85" y1="647.3" x2="574.85" y2="681.6" stroke="#999" stroke-width="0.6"/>
<line x1="568.95" y1="227.5" x2="568.95" y2="234" stroke="#999" stroke-width="0.6"/>
<line x1="568.95" y1="647.3" x2="568.95" y2="653.8" stroke="#999" stroke-width="0.6"/>
<line x1="580.75" y1="227.5" x2="580.75" y2="234" stroke="#999" stroke-width="0.6"/>
<line x1="580.75" y1="647.3" x2="580.75" y2="653.8" stroke="#999" stroke-width="0.6"/>
<line x1="762.55" y1="199.7" x2="762.55" y2="234" stroke="#999" stroke-width="0.6"/>
<line x1="762.55" y1="647.3" x2="762.55" y2="681.6" stroke="#999" stroke-width="0.6"/>
<line x1="756.65" y1="227.5" x2="756.65" y2="234" stroke="#999" stroke-width="0.6"/>
<line x1="756.65" y1="647.3" x2="756.65" y2="653.8" stroke="#999" stroke-width="0.6"/>
<line x1="768.45" y1="227.5" x2="768.45" y2="234" stroke="#999" stroke-width="0.6"/>
<line x1="768.45" y1="647.3" x2="768.45" y2="653.8" stroke="#999" stroke-width="0.6"/>
<line x1="950.25" y1="199.7" x2="950.25" y2="234" stroke="#999" stroke-width="0.6"/>
<line x1="950.25" y1="647.3" x2="950.25" y2="681.6" stroke="#999" stroke-width="0.6"/>
<line x1="944.35" y1="227.5" x2="944.35" y2="234" stroke="#999" stroke-width="0.6"/>
<line x1="944.35" y1="647.3" x2="944.35" y2="653.8" stroke="#999" stroke-width="0.6"/>
<line x1="956.15" y1="227.5" x2="956.15" y2="234" stroke="#999" stroke-width="0.6"/>
<line x1="956.15" y1="647.3" x2="956.15" y2="653.8" stroke="#999" stroke-width="0.6"/>
<line x1="1137.95" y1="199.7" x2="1137.95" y2="234" stroke="#999" stroke-width="0.6"/>
<line x1="1137.95" y1="647.3" x2="1137.95" y2="681.6" stroke="#999" stroke-width="0.6"/>
<line x1="1132.05" y1="227.5" x2="1132.05" y2="234" stroke="#999" stroke-width="0.6"/>
<line x1="1132.05" y1="647.3" x2="1132.05" y2="653.8" stroke="#999" stroke-width="0.6"/>
<line x1="1143.85" y1="227.5" x2="1143.85" y2="234" stroke="#999" stroke-width="0.6"/>
<line x1="1143.85" y1="647.3" x2="1143.85" y2="653.8" stroke="#999" stroke-width="0.6"/>
<line x1="185" y1="122" x2="1339.76" y2="122" stroke="#c4c4c4" stroke-width="1"/>
<line x1="189" y1="117.8" x2="189" y2="126.2" stroke="#a8a8a8" stroke-width="0.9"/>
<path d="M186.8,122 L189,120.5 L191.2,122 L189,123.5 Z" fill="#8e8e8e"/>
<line x1="1335.76" y1="117.8" x2="1335.76" y2="126.2" stroke="#a8a8a8" stroke-width="0.9"/>
<path d="M1333.56,122 L1335.76,120.5 L1337.96,122 L1335.76,123.5 Z" fill="#8e8e8e"/>
<text x="748.93" y="118.6" font-family='"Liberation Sans", sans-serif' font-size="13.2" fill="#262626" font-weight="normal" text-anchor="start" textLength="26.9" lengthAdjust="spacingAndGlyphs">30,91</text>
<line x1="185" y1="734.4" x2="1339.76" y2="734.4" stroke="#c4c4c4" stroke-width="1"/>
<line x1="189" y1="730.2" x2="189" y2="738.6" stroke="#a8a8a8" stroke-width="0.9"/>
<path d="M186.8,734.4 L189,732.9 L191.2,734.4 L189,735.9 Z" fill="#8e8e8e"/>
<line x1="204.77" y1="730.2" x2="204.77" y2="738.6" stroke="#a8a8a8" stroke-width="0.9"/>
<path d="M202.57,734.4 L204.77,732.9 L206.97,734.4 L204.77,735.9 Z" fill="#8e8e8e"/>
<line x1="381.36" y1="730.2" x2="381.36" y2="738.6" stroke="#a8a8a8" stroke-width="0.9"/>
<path d="M379.16,734.4 L381.36,732.9 L383.56,734.4 L381.36,735.9 Z" fill="#8e8e8e"/>
<line x1="392.49" y1="730.2" x2="392.49" y2="738.6" stroke="#a8a8a8" stroke-width="0.9"/>
<path d="M390.29,734.4 L392.49,732.9 L394.69,734.4 L392.49,735.9 Z" fill="#8e8e8e"/>
<line x1="569.09" y1="730.2" x2="569.09" y2="738.6" stroke="#a8a8a8" stroke-width="0.9"/>
<path d="M566.89,734.4 L569.09,732.9 L571.29,734.4 L569.09,735.9 Z" fill="#8e8e8e"/>
<line x1="580.22" y1="730.2" x2="580.22" y2="738.6" stroke="#a8a8a8" stroke-width="0.9"/>
<path d="M578.02,734.4 L580.22,732.9 L582.42,734.4 L580.22,735.9 Z" fill="#8e8e8e"/>
<line x1="756.82" y1="730.2" x2="756.82" y2="738.6" stroke="#a8a8a8" stroke-width="0.9"/>
<path d="M754.62,734.4 L756.82,732.9 L759.02,734.4 L756.82,735.9 Z" fill="#8e8e8e"/>
<line x1="767.95" y1="730.2" x2="767.95" y2="738.6" stroke="#a8a8a8" stroke-width="0.9"/>
<path d="M765.75,734.4 L767.95,732.9 L770.15,734.4 L767.95,735.9 Z" fill="#8e8e8e"/>
<line x1="944.54" y1="730.2" x2="944.54" y2="738.6" stroke="#a8a8a8" stroke-width="0.9"/>
<path d="M942.34,734.4 L944.54,732.9 L946.74,734.4 L944.54,735.9 Z" fill="#8e8e8e"/>
<line x1="955.67" y1="730.2" x2="955.67" y2="738.6" stroke="#a8a8a8" stroke-width="0.9"/>
<path d="M953.47,734.4 L955.67,732.9 L957.87,734.4 L955.67,735.9 Z" fill="#8e8e8e"/>
<line x1="1132.27" y1="730.2" x2="1132.27" y2="738.6" stroke="#a8a8a8" stroke-width="0.9"/>
<path d="M1130.07,734.4 L1132.27,732.9 L1134.47,734.4 L1132.27,735.9 Z" fill="#8e8e8e"/>
<line x1="1143.4" y1="730.2" x2="1143.4" y2="738.6" stroke="#a8a8a8" stroke-width="0.9"/>
<path d="M1141.2,734.4 L1143.4,732.9 L1145.6,734.4 L1143.4,735.9 Z" fill="#8e8e8e"/>
<line x1="1319.99" y1="730.2" x2="1319.99" y2="738.6" stroke="#a8a8a8" stroke-width="0.9"/>
<path d="M1317.79,734.4 L1319.99,732.9 L1322.19,734.4 L1319.99,735.9 Z" fill="#8e8e8e"/>
<line x1="1335.76" y1="730.2" x2="1335.76" y2="738.6" stroke="#a8a8a8" stroke-width="0.9"/>
<path d="M1333.56,734.4 L1335.76,732.9 L1337.96,734.4 L1335.76,735.9 Z" fill="#8e8e8e"/>
<text x="188.78" y="728.4" font-family='"Liberation Sans", sans-serif' font-size="13.2" fill="#262626" font-weight="normal" text-anchor="start" textLength="11.2" lengthAdjust="spacingAndGlyphs">42</text>
<text x="200.48" y="724.1" font-family='"Liberation Sans", sans-serif' font-size="8.4" fill="#262626" font-weight="normal" text-anchor="start">5</text>
<text x="282.42" y="731" font-family='"Liberation Sans", sans-serif' font-size="13.2" fill="#262626" font-weight="normal" text-anchor="start" textLength="21.3" lengthAdjust="spacingAndGlyphs">4,76</text>
<text x="381.33" y="728.4" font-family='"Liberation Sans", sans-serif' font-size="13.2" fill="#262626" font-weight="normal" text-anchor="start" textLength="11.2" lengthAdjust="spacingAndGlyphs">30</text>
<text x="470.14" y="731" font-family='"Liberation Sans", sans-serif' font-size="13.2" fill="#262626" font-weight="normal" text-anchor="start" textLength="21.3" lengthAdjust="spacingAndGlyphs">4,76</text>
<text x="569.05" y="728.4" font-family='"Liberation Sans", sans-serif' font-size="13.2" fill="#262626" font-weight="normal" text-anchor="start" textLength="11.2" lengthAdjust="spacingAndGlyphs">30</text>
<text x="657.87" y="731" font-family='"Liberation Sans", sans-serif' font-size="13.2" fill="#262626" font-weight="normal" text-anchor="start" textLength="21.3" lengthAdjust="spacingAndGlyphs">4,76</text>
<text x="756.78" y="728.4" font-family='"Liberation Sans", sans-serif' font-size="13.2" fill="#262626" font-weight="normal" text-anchor="start" textLength="11.2" lengthAdjust="spacingAndGlyphs">30</text>
<text x="845.59" y="731" font-family='"Liberation Sans", sans-serif' font-size="13.2" fill="#262626" font-weight="normal" text-anchor="start" textLength="21.3" lengthAdjust="spacingAndGlyphs">4,76</text>
<text x="944.51" y="728.4" font-family='"Liberation Sans", sans-serif' font-size="13.2" fill="#262626" font-weight="normal" text-anchor="start" textLength="11.2" lengthAdjust="spacingAndGlyphs">30</text>
<text x="1033.32" y="731" font-family='"Liberation Sans", sans-serif' font-size="13.2" fill="#262626" font-weight="normal" text-anchor="start" textLength="21.3" lengthAdjust="spacingAndGlyphs">4,76</text>
<text x="1132.23" y="728.4" font-family='"Liberation Sans", sans-serif' font-size="13.2" fill="#262626" font-weight="normal" text-anchor="start" textLength="11.2" lengthAdjust="spacingAndGlyphs">30</text>
<text x="1221.05" y="731" font-family='"Liberation Sans", sans-serif' font-size="13.2" fill="#262626" font-weight="normal" text-anchor="start" textLength="21.3" lengthAdjust="spacingAndGlyphs">4,76</text>
<text x="1319.78" y="728.4" font-family='"Liberation Sans", sans-serif' font-size="13.2" fill="#262626" font-weight="normal" text-anchor="start" textLength="11.2" lengthAdjust="spacingAndGlyphs">42</text>
<text x="1331.48" y="724.1" font-family='"Liberation Sans", sans-serif' font-size="8.4" fill="#262626" font-weight="normal" text-anchor="start">5</text>
<line x1="185" y1="767.6" x2="1339.76" y2="767.6" stroke="#c4c4c4" stroke-width="1"/>
<line x1="189" y1="763.4" x2="189" y2="771.8" stroke="#a8a8a8" stroke-width="0.9"/>
<path d="M186.8,767.6 L189,766.1 L191.2,767.6 L189,769.1 Z" fill="#8e8e8e"/>
<line x1="204.77" y1="763.4" x2="204.77" y2="771.8" stroke="#a8a8a8" stroke-width="0.9"/>
<path d="M202.57,767.6 L204.77,766.1 L206.97,767.6 L204.77,769.1 Z" fill="#8e8e8e"/>
<line x1="291.4" y1="763.4" x2="291.4" y2="771.8" stroke="#a8a8a8" stroke-width="0.9"/>
<path d="M289.2,767.6 L291.4,766.1 L293.6,767.6 L291.4,769.1 Z" fill="#8e8e8e"/>
<line x1="296.03" y1="763.4" x2="296.03" y2="771.8" stroke="#a8a8a8" stroke-width="0.9"/>
<path d="M293.83,767.6 L296.03,766.1 L298.23,767.6 L296.03,769.1 Z" fill="#8e8e8e"/>
<line x1="341.3" y1="763.4" x2="341.3" y2="771.8" stroke="#a8a8a8" stroke-width="0.9"/>
<path d="M339.1,767.6 L341.3,766.1 L343.5,767.6 L341.3,769.1 Z" fill="#8e8e8e"/>
<line x1="432.56" y1="763.4" x2="432.56" y2="771.8" stroke="#a8a8a8" stroke-width="0.9"/>
<path d="M430.36,767.6 L432.56,766.1 L434.76,767.6 L432.56,769.1 Z" fill="#8e8e8e"/>
<line x1="477.82" y1="763.4" x2="477.82" y2="771.8" stroke="#a8a8a8" stroke-width="0.9"/>
<path d="M475.62,767.6 L477.82,766.1 L480.02,767.6 L477.82,769.1 Z" fill="#8e8e8e"/>
<line x1="482.46" y1="763.4" x2="482.46" y2="771.8" stroke="#a8a8a8" stroke-width="0.9"/>
<path d="M480.26,767.6 L482.46,766.1 L484.66,767.6 L482.46,769.1 Z" fill="#8e8e8e"/>
<line x1="569.09" y1="763.4" x2="569.09" y2="771.8" stroke="#a8a8a8" stroke-width="0.9"/>
<path d="M566.89,767.6 L569.09,766.1 L571.29,767.6 L569.09,769.1 Z" fill="#8e8e8e"/>
<line x1="580.22" y1="763.4" x2="580.22" y2="771.8" stroke="#a8a8a8" stroke-width="0.9"/>
<path d="M578.02,767.6 L580.22,766.1 L582.42,767.6 L580.22,769.1 Z" fill="#8e8e8e"/>
<line x1="666.85" y1="763.4" x2="666.85" y2="771.8" stroke="#a8a8a8" stroke-width="0.9"/>
<path d="M664.65,767.6 L666.85,766.1 L669.05,767.6 L666.85,769.1 Z" fill="#8e8e8e"/>
<line x1="671.49" y1="763.4" x2="671.49" y2="771.8" stroke="#a8a8a8" stroke-width="0.9"/>
<path d="M669.29,767.6 L671.49,766.1 L673.69,767.6 L671.49,769.1 Z" fill="#8e8e8e"/>
<line x1="716.75" y1="763.4" x2="716.75" y2="771.8" stroke="#a8a8a8" stroke-width="0.9"/>
<path d="M714.55,767.6 L716.75,766.1 L718.95,767.6 L716.75,769.1 Z" fill="#8e8e8e"/>
<line x1="756.82" y1="763.4" x2="756.82" y2="771.8" stroke="#a8a8a8" stroke-width="0.9"/>
<path d="M754.62,767.6 L756.82,766.1 L759.02,767.6 L756.82,769.1 Z" fill="#8e8e8e"/>
<line x1="767.95" y1="763.4" x2="767.95" y2="771.8" stroke="#a8a8a8" stroke-width="0.9"/>
<path d="M765.75,767.6 L767.95,766.1 L770.15,767.6 L767.95,769.1 Z" fill="#8e8e8e"/>
<line x1="808.01" y1="763.4" x2="808.01" y2="771.8" stroke="#a8a8a8" stroke-width="0.9"/>
<path d="M805.81,767.6 L808.01,766.1 L810.21,767.6 L808.01,769.1 Z" fill="#8e8e8e"/>
<line x1="853.28" y1="763.4" x2="853.28" y2="771.8" stroke="#a8a8a8" stroke-width="0.9"/>
<path d="M851.08,767.6 L853.28,766.1 L855.48,767.6 L853.28,769.1 Z" fill="#8e8e8e"/>
<line x1="857.91" y1="763.4" x2="857.91" y2="771.8" stroke="#a8a8a8" stroke-width="0.9"/>
<path d="M855.71,767.6 L857.91,766.1 L860.11,767.6 L857.91,769.1 Z" fill="#8e8e8e"/>
<line x1="944.54" y1="763.4" x2="944.54" y2="771.8" stroke="#a8a8a8" stroke-width="0.9"/>
<path d="M942.34,767.6 L944.54,766.1 L946.74,767.6 L944.54,769.1 Z" fill="#8e8e8e"/>
<line x1="955.67" y1="763.4" x2="955.67" y2="771.8" stroke="#a8a8a8" stroke-width="0.9"/>
<path d="M953.47,767.6 L955.67,766.1 L957.87,767.6 L955.67,769.1 Z" fill="#8e8e8e"/>
<line x1="1042.3" y1="763.4" x2="1042.3" y2="771.8" stroke="#a8a8a8" stroke-width="0.9"/>
<path d="M1040.1,767.6 L1042.3,766.1 L1044.5,767.6 L1042.3,769.1 Z" fill="#8e8e8e"/>
<line x1="1046.94" y1="763.4" x2="1046.94" y2="771.8" stroke="#a8a8a8" stroke-width="0.9"/>
<path d="M1044.74,767.6 L1046.94,766.1 L1049.14,767.6 L1046.94,769.1 Z" fill="#8e8e8e"/>
<line x1="1092.2" y1="763.4" x2="1092.2" y2="771.8" stroke="#a8a8a8" stroke-width="0.9"/>
<path d="M1090,767.6 L1092.2,766.1 L1094.4,767.6 L1092.2,769.1 Z" fill="#8e8e8e"/>
<line x1="1132.27" y1="763.4" x2="1132.27" y2="771.8" stroke="#a8a8a8" stroke-width="0.9"/>
<path d="M1130.07,767.6 L1132.27,766.1 L1134.47,767.6 L1132.27,769.1 Z" fill="#8e8e8e"/>
<line x1="1143.4" y1="763.4" x2="1143.4" y2="771.8" stroke="#a8a8a8" stroke-width="0.9"/>
<path d="M1141.2,767.6 L1143.4,766.1 L1145.6,767.6 L1143.4,769.1 Z" fill="#8e8e8e"/>
<line x1="1183.47" y1="763.4" x2="1183.47" y2="771.8" stroke="#a8a8a8" stroke-width="0.9"/>
<path d="M1181.27,767.6 L1183.47,766.1 L1185.67,767.6 L1183.47,769.1 Z" fill="#8e8e8e"/>
<line x1="1228.73" y1="763.4" x2="1228.73" y2="771.8" stroke="#a8a8a8" stroke-width="0.9"/>
<path d="M1226.53,767.6 L1228.73,766.1 L1230.93,767.6 L1228.73,769.1 Z" fill="#8e8e8e"/>
<line x1="1233.37" y1="763.4" x2="1233.37" y2="771.8" stroke="#a8a8a8" stroke-width="0.9"/>
<path d="M1231.16,767.6 L1233.37,766.1 L1235.57,767.6 L1233.37,769.1 Z" fill="#8e8e8e"/>
<line x1="1319.99" y1="763.4" x2="1319.99" y2="771.8" stroke="#a8a8a8" stroke-width="0.9"/>
<path d="M1317.79,767.6 L1319.99,766.1 L1322.19,767.6 L1319.99,769.1 Z" fill="#8e8e8e"/>
<line x1="1335.76" y1="763.4" x2="1335.76" y2="771.8" stroke="#a8a8a8" stroke-width="0.9"/>
<path d="M1333.56,767.6 L1335.76,766.1 L1337.96,767.6 L1335.76,769.1 Z" fill="#8e8e8e"/>
<text x="188.78" y="761.6" font-family='"Liberation Sans", sans-serif' font-size="13.2" fill="#262626" font-weight="normal" text-anchor="start" textLength="11.2" lengthAdjust="spacingAndGlyphs">42</text>
<text x="200.48" y="757.3" font-family='"Liberation Sans", sans-serif' font-size="8.4" fill="#262626" font-weight="normal" text-anchor="start">5</text>
<text x="234.93" y="764.2" font-family='"Liberation Sans", sans-serif' font-size="13.2" fill="#262626" font-weight="normal" text-anchor="start" textLength="21.3" lengthAdjust="spacingAndGlyphs">2,33</text>
<text x="256.73" y="759.9" font-family='"Liberation Sans", sans-serif' font-size="8.4" fill="#262626" font-weight="normal" text-anchor="start">5</text>
<text x="285.61" y="761.6" font-family='"Liberation Sans", sans-serif' font-size="13.2" fill="#262626" font-weight="normal" text-anchor="start" textLength="11.2" lengthAdjust="spacingAndGlyphs">12</text>
<text x="297.31" y="757.3" font-family='"Liberation Sans", sans-serif' font-size="8.4" fill="#262626" font-weight="normal" text-anchor="start">5</text>
<text x="308.01" y="764.2" font-family='"Liberation Sans", sans-serif' font-size="13.2" fill="#262626" font-weight="normal" text-anchor="start" textLength="21.3" lengthAdjust="spacingAndGlyphs">1,22</text>
<text x="376.28" y="764.2" font-family='"Liberation Sans", sans-serif' font-size="13.2" fill="#262626" font-weight="normal" text-anchor="start" textLength="21.3" lengthAdjust="spacingAndGlyphs">2,46</text>
<text x="444.54" y="764.2" font-family='"Liberation Sans", sans-serif' font-size="13.2" fill="#262626" font-weight="normal" text-anchor="start" textLength="21.3" lengthAdjust="spacingAndGlyphs">1,22</text>
<text x="472.04" y="761.6" font-family='"Liberation Sans", sans-serif' font-size="13.2" fill="#262626" font-weight="normal" text-anchor="start" textLength="11.2" lengthAdjust="spacingAndGlyphs">12</text>
<text x="483.74" y="757.3" font-family='"Liberation Sans", sans-serif' font-size="8.4" fill="#262626" font-weight="normal" text-anchor="start">5</text>
<text x="512.63" y="764.2" font-family='"Liberation Sans", sans-serif' font-size="13.2" fill="#262626" font-weight="normal" text-anchor="start" textLength="21.3" lengthAdjust="spacingAndGlyphs">2,33</text>
<text x="534.43" y="759.9" font-family='"Liberation Sans", sans-serif' font-size="8.4" fill="#262626" font-weight="normal" text-anchor="start">5</text>
<text x="569.05" y="761.6" font-family='"Liberation Sans", sans-serif' font-size="13.2" fill="#262626" font-weight="normal" text-anchor="start" textLength="11.2" lengthAdjust="spacingAndGlyphs">30</text>
<text x="610.38" y="764.2" font-family='"Liberation Sans", sans-serif' font-size="13.2" fill="#262626" font-weight="normal" text-anchor="start" textLength="21.3" lengthAdjust="spacingAndGlyphs">2,33</text>
<text x="632.18" y="759.9" font-family='"Liberation Sans", sans-serif' font-size="8.4" fill="#262626" font-weight="normal" text-anchor="start">5</text>
<text x="661.07" y="761.6" font-family='"Liberation Sans", sans-serif' font-size="13.2" fill="#262626" font-weight="normal" text-anchor="start" textLength="11.2" lengthAdjust="spacingAndGlyphs">12</text>
<text x="672.77" y="757.3" font-family='"Liberation Sans", sans-serif' font-size="8.4" fill="#262626" font-weight="normal" text-anchor="start">5</text>
<text x="683.47" y="764.2" font-family='"Liberation Sans", sans-serif' font-size="13.2" fill="#262626" font-weight="normal" text-anchor="start" textLength="21.3" lengthAdjust="spacingAndGlyphs">1,22</text>
<text x="726.13" y="764.2" font-family='"Liberation Sans", sans-serif' font-size="13.2" fill="#262626" font-weight="normal" text-anchor="start" textLength="21.3" lengthAdjust="spacingAndGlyphs">1,08</text>
<text x="756.78" y="761.6" font-family='"Liberation Sans", sans-serif' font-size="13.2" fill="#262626" font-weight="normal" text-anchor="start" textLength="11.2" lengthAdjust="spacingAndGlyphs">30</text>
<text x="777.33" y="764.2" font-family='"Liberation Sans", sans-serif' font-size="13.2" fill="#262626" font-weight="normal" text-anchor="start" textLength="21.3" lengthAdjust="spacingAndGlyphs">1,08</text>
<text x="819.99" y="764.2" font-family='"Liberation Sans", sans-serif' font-size="13.2" fill="#262626" font-weight="normal" text-anchor="start" textLength="21.3" lengthAdjust="spacingAndGlyphs">1,22</text>
<text x="847.49" y="761.6" font-family='"Liberation Sans", sans-serif' font-size="13.2" fill="#262626" font-weight="normal" text-anchor="start" textLength="11.2" lengthAdjust="spacingAndGlyphs">12</text>
<text x="859.19" y="757.3" font-family='"Liberation Sans", sans-serif' font-size="8.4" fill="#262626" font-weight="normal" text-anchor="start">5</text>
<text x="888.08" y="764.2" font-family='"Liberation Sans", sans-serif' font-size="13.2" fill="#262626" font-weight="normal" text-anchor="start" textLength="21.3" lengthAdjust="spacingAndGlyphs">2,33</text>
<text x="909.88" y="759.9" font-family='"Liberation Sans", sans-serif' font-size="8.4" fill="#262626" font-weight="normal" text-anchor="start">5</text>
<text x="944.51" y="761.6" font-family='"Liberation Sans", sans-serif' font-size="13.2" fill="#262626" font-weight="normal" text-anchor="start" textLength="11.2" lengthAdjust="spacingAndGlyphs">30</text>
<text x="985.84" y="764.2" font-family='"Liberation Sans", sans-serif' font-size="13.2" fill="#262626" font-weight="normal" text-anchor="start" textLength="21.3" lengthAdjust="spacingAndGlyphs">2,33</text>
<text x="1007.64" y="759.9" font-family='"Liberation Sans", sans-serif' font-size="8.4" fill="#262626" font-weight="normal" text-anchor="start">5</text>
<text x="1036.52" y="761.6" font-family='"Liberation Sans", sans-serif' font-size="13.2" fill="#262626" font-weight="normal" text-anchor="start" textLength="11.2" lengthAdjust="spacingAndGlyphs">12</text>
<text x="1048.22" y="757.3" font-family='"Liberation Sans", sans-serif' font-size="8.4" fill="#262626" font-weight="normal" text-anchor="start">5</text>
<text x="1058.92" y="764.2" font-family='"Liberation Sans", sans-serif' font-size="13.2" fill="#262626" font-weight="normal" text-anchor="start" textLength="21.3" lengthAdjust="spacingAndGlyphs">1,22</text>
<text x="1101.58" y="764.2" font-family='"Liberation Sans", sans-serif' font-size="13.2" fill="#262626" font-weight="normal" text-anchor="start" textLength="21.3" lengthAdjust="spacingAndGlyphs">1,08</text>
<text x="1132.23" y="761.6" font-family='"Liberation Sans", sans-serif' font-size="13.2" fill="#262626" font-weight="normal" text-anchor="start" textLength="11.2" lengthAdjust="spacingAndGlyphs">30</text>
<text x="1152.78" y="764.2" font-family='"Liberation Sans", sans-serif' font-size="13.2" fill="#262626" font-weight="normal" text-anchor="start" textLength="21.3" lengthAdjust="spacingAndGlyphs">1,08</text>
<text x="1195.45" y="764.2" font-family='"Liberation Sans", sans-serif' font-size="13.2" fill="#262626" font-weight="normal" text-anchor="start" textLength="21.3" lengthAdjust="spacingAndGlyphs">1,22</text>
<text x="1222.95" y="761.6" font-family='"Liberation Sans", sans-serif' font-size="13.2" fill="#262626" font-weight="normal" text-anchor="start" textLength="11.2" lengthAdjust="spacingAndGlyphs">12</text>
<text x="1234.65" y="757.3" font-family='"Liberation Sans", sans-serif' font-size="8.4" fill="#262626" font-weight="normal" text-anchor="start">5</text>
<text x="1263.53" y="764.2" font-family='"Liberation Sans", sans-serif' font-size="13.2" fill="#262626" font-weight="normal" text-anchor="start" textLength="21.3" lengthAdjust="spacingAndGlyphs">2,33</text>
<text x="1285.33" y="759.9" font-family='"Liberation Sans", sans-serif' font-size="8.4" fill="#262626" font-weight="normal" text-anchor="start">5</text>
<text x="1319.78" y="761.6" font-family='"Liberation Sans", sans-serif' font-size="13.2" fill="#262626" font-weight="normal" text-anchor="start" textLength="11.2" lengthAdjust="spacingAndGlyphs">42</text>
<text x="1331.48" y="757.3" font-family='"Liberation Sans", sans-serif' font-size="8.4" fill="#262626" font-weight="normal" text-anchor="start">5</text>
<line x1="185" y1="801" x2="1339.76" y2="801" stroke="#c4c4c4" stroke-width="1"/>
<line x1="189" y1="796.8" x2="189" y2="805.2" stroke="#a8a8a8" stroke-width="0.9"/>
<path d="M186.8,801 L189,799.5 L191.2,801 L189,802.5 Z" fill="#8e8e8e"/>
<line x1="386.93" y1="796.8" x2="386.93" y2="805.2" stroke="#a8a8a8" stroke-width="0.9"/>
<path d="M384.73,801 L386.93,799.5 L389.13,801 L386.93,802.5 Z" fill="#8e8e8e"/>
<line x1="574.65" y1="796.8" x2="574.65" y2="805.2" stroke="#a8a8a8" stroke-width="0.9"/>
<path d="M572.45,801 L574.65,799.5 L576.85,801 L574.65,802.5 Z" fill="#8e8e8e"/>
<line x1="762.38" y1="796.8" x2="762.38" y2="805.2" stroke="#a8a8a8" stroke-width="0.9"/>
<path d="M760.18,801 L762.38,799.5 L764.58,801 L762.38,802.5 Z" fill="#8e8e8e"/>
<line x1="950.11" y1="796.8" x2="950.11" y2="805.2" stroke="#a8a8a8" stroke-width="0.9"/>
<path d="M947.91,801 L950.11,799.5 L952.31,801 L950.11,802.5 Z" fill="#8e8e8e"/>
<line x1="1137.83" y1="796.8" x2="1137.83" y2="805.2" stroke="#a8a8a8" stroke-width="0.9"/>
<path d="M1135.63,801 L1137.83,799.5 L1140.03,801 L1137.83,802.5 Z" fill="#8e8e8e"/>
<line x1="1335.76" y1="796.8" x2="1335.76" y2="805.2" stroke="#a8a8a8" stroke-width="0.9"/>
<path d="M1333.56,801 L1335.76,799.5 L1337.96,801 L1335.76,802.5 Z" fill="#8e8e8e"/>
<text x="274.81" y="797.6" font-family='"Liberation Sans", sans-serif' font-size="13.2" fill="#262626" font-weight="normal" text-anchor="start" textLength="21.3" lengthAdjust="spacingAndGlyphs">5,33</text>
<text x="296.61" y="793.3" font-family='"Liberation Sans", sans-serif' font-size="8.4" fill="#262626" font-weight="normal" text-anchor="start">5</text>
<text x="470.14" y="797.6" font-family='"Liberation Sans", sans-serif' font-size="13.2" fill="#262626" font-weight="normal" text-anchor="start" textLength="21.3" lengthAdjust="spacingAndGlyphs">5,06</text>
<text x="657.87" y="797.6" font-family='"Liberation Sans", sans-serif' font-size="13.2" fill="#262626" font-weight="normal" text-anchor="start" textLength="21.3" lengthAdjust="spacingAndGlyphs">5,06</text>
<text x="845.59" y="797.6" font-family='"Liberation Sans", sans-serif' font-size="13.2" fill="#262626" font-weight="normal" text-anchor="start" textLength="21.3" lengthAdjust="spacingAndGlyphs">5,06</text>
<text x="1033.32" y="797.6" font-family='"Liberation Sans", sans-serif' font-size="13.2" fill="#262626" font-weight="normal" text-anchor="start" textLength="21.3" lengthAdjust="spacingAndGlyphs">5,06</text>
<text x="1223.65" y="797.6" font-family='"Liberation Sans", sans-serif' font-size="13.2" fill="#262626" font-weight="normal" text-anchor="start" textLength="21.3" lengthAdjust="spacingAndGlyphs">5,33</text>
<text x="1245.45" y="793.3" font-family='"Liberation Sans", sans-serif' font-size="8.4" fill="#262626" font-weight="normal" text-anchor="start">5</text>
<line x1="185" y1="834.4" x2="1339.76" y2="834.4" stroke="#c4c4c4" stroke-width="1"/>
<line x1="189" y1="830.2" x2="189" y2="838.6" stroke="#a8a8a8" stroke-width="0.9"/>
<path d="M186.8,834.4 L189,832.9 L191.2,834.4 L189,835.9 Z" fill="#8e8e8e"/>
<line x1="1335.76" y1="830.2" x2="1335.76" y2="838.6" stroke="#a8a8a8" stroke-width="0.9"/>
<path d="M1333.56,834.4 L1335.76,832.9 L1337.96,834.4 L1335.76,835.9 Z" fill="#8e8e8e"/>
<text x="748.93" y="831" font-family='"Liberation Sans", sans-serif' font-size="13.2" fill="#262626" font-weight="normal" text-anchor="start" textLength="26.9" lengthAdjust="spacingAndGlyphs">30,91</text>
<line x1="28.4" y1="214.3" x2="28.4" y2="667.5" stroke="#c4c4c4" stroke-width="1"/>
<line x1="24.2" y1="218.3" x2="32.6" y2="218.3" stroke="#a8a8a8" stroke-width="0.9"/>
<path d="M28.4,216.1 L26.9,218.3 L28.4,220.5 L29.9,218.3 Z" fill="#8e8e8e"/>
<line x1="24.2" y1="663.5" x2="32.6" y2="663.5" stroke="#a8a8a8" stroke-width="0.9"/>
<path d="M28.4,661.3 L26.9,663.5 L28.4,665.7 L29.9,663.5 Z" fill="#8e8e8e"/>
<g transform="translate(25.2 454.35) rotate(-90)">
<text x="0" y="0" font-family='"Liberation Sans", sans-serif' font-size="13.2" fill="#262626" font-weight="normal" text-anchor="start" textLength="26.9" lengthAdjust="spacingAndGlyphs">12,00</text>
</g>
<line x1="61.5" y1="214.3" x2="61.5" y2="667.5" stroke="#c4c4c4" stroke-width="1"/>
<line x1="57.3" y1="218.3" x2="65.7" y2="218.3" stroke="#a8a8a8" stroke-width="0.9"/>
<path d="M61.5,216.1 L60,218.3 L61.5,220.5 L63,218.3 Z" fill="#8e8e8e"/>
<line x1="57.3" y1="234.07" x2="65.7" y2="234.07" stroke="#a8a8a8" stroke-width="0.9"/>
<path d="M61.5,231.87 L60,234.07 L61.5,236.27 L63,234.07 Z" fill="#8e8e8e"/>
<line x1="57.3" y1="366.14" x2="65.7" y2="366.14" stroke="#a8a8a8" stroke-width="0.9"/>
<path d="M61.5,363.94 L60,366.14 L61.5,368.34 L63,366.14 Z" fill="#8e8e8e"/>
<line x1="57.3" y1="370.78" x2="65.7" y2="370.78" stroke="#a8a8a8" stroke-width="0.9"/>
<path d="M61.5,368.58 L60,370.78 L61.5,372.98 L63,370.78 Z" fill="#8e8e8e"/>
<line x1="57.3" y1="445.35" x2="65.7" y2="445.35" stroke="#a8a8a8" stroke-width="0.9"/>
<path d="M61.5,443.15 L60,445.35 L61.5,447.55 L63,445.35 Z" fill="#8e8e8e"/>
<line x1="57.3" y1="449.99" x2="65.7" y2="449.99" stroke="#a8a8a8" stroke-width="0.9"/>
<path d="M61.5,447.79 L60,449.99 L61.5,452.19 L63,449.99 Z" fill="#8e8e8e"/>
<line x1="57.3" y1="497.11" x2="65.7" y2="497.11" stroke="#a8a8a8" stroke-width="0.9"/>
<path d="M61.5,494.91 L60,497.11 L61.5,499.31 L63,497.11 Z" fill="#8e8e8e"/>
<line x1="57.3" y1="647.73" x2="65.7" y2="647.73" stroke="#a8a8a8" stroke-width="0.9"/>
<path d="M61.5,645.53 L60,647.73 L61.5,649.93 L63,647.73 Z" fill="#8e8e8e"/>
<line x1="57.3" y1="663.5" x2="65.7" y2="663.5" stroke="#a8a8a8" stroke-width="0.9"/>
<path d="M61.5,661.3 L60,663.5 L61.5,665.7 L63,663.5 Z" fill="#8e8e8e"/>
<g transform="translate(56.1 234.28) rotate(-90)">
<text x="0" y="0" font-family='"Liberation Sans", sans-serif' font-size="13.2" fill="#262626" font-weight="normal" text-anchor="start" textLength="11.2" lengthAdjust="spacingAndGlyphs">42</text>
<text x="11.7" y="-4.3" font-family='"Liberation Sans", sans-serif' font-size="8.4" fill="#262626" font-weight="normal" text-anchor="start">5</text>
</g>
<g transform="translate(58.3 310.76) rotate(-90)">
<text x="0" y="0" font-family='"Liberation Sans", sans-serif' font-size="13.2" fill="#262626" font-weight="normal" text-anchor="start" textLength="21.3" lengthAdjust="spacingAndGlyphs">3,56</text>
</g>
<g transform="translate(56.1 376.56) rotate(-90)">
<text x="0" y="0" font-family='"Liberation Sans", sans-serif' font-size="13.2" fill="#262626" font-weight="normal" text-anchor="start" textLength="11.2" lengthAdjust="spacingAndGlyphs">12</text>
<text x="11.7" y="-4.3" font-family='"Liberation Sans", sans-serif' font-size="8.4" fill="#262626" font-weight="normal" text-anchor="start">5</text>
</g>
<g transform="translate(58.3 418.72) rotate(-90)">
<text x="0" y="0" font-family='"Liberation Sans", sans-serif' font-size="13.2" fill="#262626" font-weight="normal" text-anchor="start" textLength="21.3" lengthAdjust="spacingAndGlyphs">2,01</text>
</g>
<g transform="translate(56.1 455.77) rotate(-90)">
<text x="0" y="0" font-family='"Liberation Sans", sans-serif' font-size="13.2" fill="#262626" font-weight="normal" text-anchor="start" textLength="11.2" lengthAdjust="spacingAndGlyphs">12</text>
<text x="11.7" y="-4.3" font-family='"Liberation Sans", sans-serif' font-size="8.4" fill="#262626" font-weight="normal" text-anchor="start">5</text>
</g>
<g transform="translate(58.3 484.2) rotate(-90)">
<text x="0" y="0" font-family='"Liberation Sans", sans-serif' font-size="13.2" fill="#262626" font-weight="normal" text-anchor="start" textLength="21.3" lengthAdjust="spacingAndGlyphs">1,27</text>
</g>
<g transform="translate(58.3 583.07) rotate(-90)">
<text x="0" y="0" font-family='"Liberation Sans", sans-serif' font-size="13.2" fill="#262626" font-weight="normal" text-anchor="start" textLength="21.3" lengthAdjust="spacingAndGlyphs">4,06</text>
</g>
<g transform="translate(56.1 663.72) rotate(-90)">
<text x="0" y="0" font-family='"Liberation Sans", sans-serif' font-size="13.2" fill="#262626" font-weight="normal" text-anchor="start" textLength="11.2" lengthAdjust="spacingAndGlyphs">42</text>
<text x="11.7" y="-4.3" font-family='"Liberation Sans", sans-serif' font-size="8.4" fill="#262626" font-weight="normal" text-anchor="start">5</text>
</g>
<line x1="94.9" y1="214.3" x2="94.9" y2="667.5" stroke="#c4c4c4" stroke-width="1"/>
<line x1="90.7" y1="218.3" x2="99.1" y2="218.3" stroke="#a8a8a8" stroke-width="0.9"/>
<path d="M94.9,216.1 L93.4,218.3 L94.9,220.5 L96.4,218.3 Z" fill="#8e8e8e"/>
<line x1="90.7" y1="234.07" x2="99.1" y2="234.07" stroke="#a8a8a8" stroke-width="0.9"/>
<path d="M94.9,231.87 L93.4,234.07 L94.9,236.27 L96.4,234.07 Z" fill="#8e8e8e"/>
<line x1="90.7" y1="393.97" x2="99.1" y2="393.97" stroke="#a8a8a8" stroke-width="0.9"/>
<path d="M94.9,391.77 L93.4,393.97 L94.9,396.17 L96.4,393.97 Z" fill="#8e8e8e"/>
<line x1="90.7" y1="398.61" x2="99.1" y2="398.61" stroke="#a8a8a8" stroke-width="0.9"/>
<path d="M94.9,396.41 L93.4,398.61 L94.9,400.81 L96.4,398.61 Z" fill="#8e8e8e"/>
<line x1="90.7" y1="647.73" x2="99.1" y2="647.73" stroke="#a8a8a8" stroke-width="0.9"/>
<path d="M94.9,645.53 L93.4,647.73 L94.9,649.93 L96.4,647.73 Z" fill="#8e8e8e"/>
<line x1="90.7" y1="663.5" x2="99.1" y2="663.5" stroke="#a8a8a8" stroke-width="0.9"/>
<path d="M94.9,661.3 L93.4,663.5 L94.9,665.7 L96.4,663.5 Z" fill="#8e8e8e"/>
<g transform="translate(89.5 234.28) rotate(-90)">
<text x="0" y="0" font-family='"Liberation Sans", sans-serif' font-size="13.2" fill="#262626" font-weight="normal" text-anchor="start" textLength="11.2" lengthAdjust="spacingAndGlyphs">42</text>
<text x="11.7" y="-4.3" font-family='"Liberation Sans", sans-serif' font-size="8.4" fill="#262626" font-weight="normal" text-anchor="start">5</text>
</g>
<g transform="translate(91.7 324.67) rotate(-90)">
<text x="0" y="0" font-family='"Liberation Sans", sans-serif' font-size="13.2" fill="#262626" font-weight="normal" text-anchor="start" textLength="21.3" lengthAdjust="spacingAndGlyphs">4,31</text>
</g>
<g transform="translate(89.5 404.39) rotate(-90)">
<text x="0" y="0" font-family='"Liberation Sans", sans-serif' font-size="13.2" fill="#262626" font-weight="normal" text-anchor="start" textLength="11.2" lengthAdjust="spacingAndGlyphs">12</text>
<text x="11.7" y="-4.3" font-family='"Liberation Sans", sans-serif' font-size="8.4" fill="#262626" font-weight="normal" text-anchor="start">5</text>
</g>
<g transform="translate(91.7 536.32) rotate(-90)">
<text x="0" y="0" font-family='"Liberation Sans", sans-serif' font-size="13.2" fill="#262626" font-weight="normal" text-anchor="start" textLength="21.3" lengthAdjust="spacingAndGlyphs">6,71</text>
<text x="21.8" y="-4.3" font-family='"Liberation Sans", sans-serif' font-size="8.4" fill="#262626" font-weight="normal" text-anchor="start">5</text>
</g>
<g transform="translate(89.5 663.72) rotate(-90)">
<text x="0" y="0" font-family='"Liberation Sans", sans-serif' font-size="13.2" fill="#262626" font-weight="normal" text-anchor="start" textLength="11.2" lengthAdjust="spacingAndGlyphs">42</text>
<text x="11.7" y="-4.3" font-family='"Liberation Sans", sans-serif' font-size="8.4" fill="#262626" font-weight="normal" text-anchor="start">5</text>
</g>
<line x1="128.4" y1="214.3" x2="128.4" y2="671.95" stroke="#c4c4c4" stroke-width="1"/>
<line x1="124.2" y1="218.3" x2="132.6" y2="218.3" stroke="#a8a8a8" stroke-width="0.9"/>
<path d="M128.4,216.1 L126.9,218.3 L128.4,220.5 L129.9,218.3 Z" fill="#8e8e8e"/>
<line x1="124.2" y1="234.07" x2="132.6" y2="234.07" stroke="#a8a8a8" stroke-width="0.9"/>
<path d="M128.4,231.87 L126.9,234.07 L128.4,236.27 L129.9,234.07 Z" fill="#8e8e8e"/>
<line x1="124.2" y1="407.88" x2="132.6" y2="407.88" stroke="#a8a8a8" stroke-width="0.9"/>
<path d="M128.4,405.68 L126.9,407.88 L128.4,410.08 L129.9,407.88 Z" fill="#8e8e8e"/>
<line x1="124.2" y1="473.18" x2="132.6" y2="473.18" stroke="#a8a8a8" stroke-width="0.9"/>
<path d="M128.4,470.98 L126.9,473.18 L128.4,475.38 L129.9,473.18 Z" fill="#8e8e8e"/>
<line x1="124.2" y1="667.95" x2="132.6" y2="667.95" stroke="#a8a8a8" stroke-width="0.9"/>
<path d="M128.4,665.75 L126.9,667.95 L128.4,670.15 L129.9,667.95 Z" fill="#8e8e8e"/>
<g transform="translate(123 234.28) rotate(-90)">
<text x="0" y="0" font-family='"Liberation Sans", sans-serif' font-size="13.2" fill="#262626" font-weight="normal" text-anchor="start" textLength="11.2" lengthAdjust="spacingAndGlyphs">42</text>
<text x="11.7" y="-4.3" font-family='"Liberation Sans", sans-serif' font-size="8.4" fill="#262626" font-weight="normal" text-anchor="start">5</text>
</g>
<g transform="translate(125.2 334.12) rotate(-90)">
<text x="0" y="0" font-family='"Liberation Sans", sans-serif' font-size="13.2" fill="#262626" font-weight="normal" text-anchor="start" textLength="21.3" lengthAdjust="spacingAndGlyphs">4,68</text>
<text x="21.8" y="-4.3" font-family='"Liberation Sans", sans-serif' font-size="8.4" fill="#262626" font-weight="normal" text-anchor="start">5</text>
</g>
<g transform="translate(125.2 581.21) rotate(-90)">
<text x="0" y="0" font-family='"Liberation Sans", sans-serif' font-size="13.2" fill="#262626" font-weight="normal" text-anchor="start" textLength="21.3" lengthAdjust="spacingAndGlyphs">5,25</text>
</g>
<g transform="translate(125.2 451.18) rotate(-90)">
<text x="0" y="0" font-family='"Liberation Sans", sans-serif' font-size="13.2" fill="#262626" font-weight="normal" text-anchor="start" textLength="21.3" lengthAdjust="spacingAndGlyphs">1,76</text>
</g>
<g transform="translate(141 451.18) rotate(-90)">
<text x="0" y="0" font-family='"Liberation Sans", sans-serif' font-size="13.2" fill="#262626" font-weight="normal" text-anchor="start" textLength="21.3" lengthAdjust="spacingAndGlyphs">1,40</text>
</g>
<line x1="1396.5" y1="214.3" x2="1396.5" y2="671.95" stroke="#c4c4c4" stroke-width="1"/>
<line x1="1392.3" y1="218.3" x2="1400.7" y2="218.3" stroke="#a8a8a8" stroke-width="0.9"/>
<path d="M1396.5,216.1 L1395,218.3 L1396.5,220.5 L1398,218.3 Z" fill="#8e8e8e"/>
<line x1="1392.3" y1="234.07" x2="1400.7" y2="234.07" stroke="#a8a8a8" stroke-width="0.9"/>
<path d="M1396.5,231.87 L1395,234.07 L1396.5,236.27 L1398,234.07 Z" fill="#8e8e8e"/>
<line x1="1392.3" y1="407.88" x2="1400.7" y2="407.88" stroke="#a8a8a8" stroke-width="0.9"/>
<path d="M1396.5,405.68 L1395,407.88 L1396.5,410.08 L1398,407.88 Z" fill="#8e8e8e"/>
<line x1="1392.3" y1="473.18" x2="1400.7" y2="473.18" stroke="#a8a8a8" stroke-width="0.9"/>
<path d="M1396.5,470.98 L1395,473.18 L1396.5,475.38 L1398,473.18 Z" fill="#8e8e8e"/>
<line x1="1392.3" y1="667.95" x2="1400.7" y2="667.95" stroke="#a8a8a8" stroke-width="0.9"/>
<path d="M1396.5,665.75 L1395,667.95 L1396.5,670.15 L1398,667.95 Z" fill="#8e8e8e"/>
<g transform="translate(1391.1 234.28) rotate(-90)">
<text x="0" y="0" font-family='"Liberation Sans", sans-serif' font-size="13.2" fill="#262626" font-weight="normal" text-anchor="start" textLength="11.2" lengthAdjust="spacingAndGlyphs">42</text>
<text x="11.7" y="-4.3" font-family='"Liberation Sans", sans-serif' font-size="8.4" fill="#262626" font-weight="normal" text-anchor="start">5</text>
</g>
<g transform="translate(1393.3 334.12) rotate(-90)">
<text x="0" y="0" font-family='"Liberation Sans", sans-serif' font-size="13.2" fill="#262626" font-weight="normal" text-anchor="start" textLength="21.3" lengthAdjust="spacingAndGlyphs">4,68</text>
<text x="21.8" y="-4.3" font-family='"Liberation Sans", sans-serif' font-size="8.4" fill="#262626" font-weight="normal" text-anchor="start">5</text>
</g>
<g transform="translate(1393.3 581.21) rotate(-90)">
<text x="0" y="0" font-family='"Liberation Sans", sans-serif' font-size="13.2" fill="#262626" font-weight="normal" text-anchor="start" textLength="21.3" lengthAdjust="spacingAndGlyphs">5,25</text>
</g>
<g transform="translate(1393.3 451.18) rotate(-90)">
<text x="0" y="0" font-family='"Liberation Sans", sans-serif' font-size="13.2" fill="#262626" font-weight="normal" text-anchor="start" textLength="21.3" lengthAdjust="spacingAndGlyphs">1,76</text>
</g>
<g transform="translate(1409.1 451.18) rotate(-90)">
<text x="0" y="0" font-family='"Liberation Sans", sans-serif' font-size="13.2" fill="#262626" font-weight="normal" text-anchor="start" textLength="21.3" lengthAdjust="spacingAndGlyphs">1,40</text>
</g>
<line x1="1429.7" y1="214.3" x2="1429.7" y2="667.5" stroke="#c4c4c4" stroke-width="1"/>
<line x1="1425.5" y1="218.3" x2="1433.9" y2="218.3" stroke="#a8a8a8" stroke-width="0.9"/>
<path d="M1429.7,216.1 L1428.2,218.3 L1429.7,220.5 L1431.2,218.3 Z" fill="#8e8e8e"/>
<line x1="1425.5" y1="234.07" x2="1433.9" y2="234.07" stroke="#a8a8a8" stroke-width="0.9"/>
<path d="M1429.7,231.87 L1428.2,234.07 L1429.7,236.27 L1431.2,234.07 Z" fill="#8e8e8e"/>
<line x1="1425.5" y1="393.97" x2="1433.9" y2="393.97" stroke="#a8a8a8" stroke-width="0.9"/>
<path d="M1429.7,391.77 L1428.2,393.97 L1429.7,396.17 L1431.2,393.97 Z" fill="#8e8e8e"/>
<line x1="1425.5" y1="398.61" x2="1433.9" y2="398.61" stroke="#a8a8a8" stroke-width="0.9"/>
<path d="M1429.7,396.41 L1428.2,398.61 L1429.7,400.81 L1431.2,398.61 Z" fill="#8e8e8e"/>
<line x1="1425.5" y1="647.73" x2="1433.9" y2="647.73" stroke="#a8a8a8" stroke-width="0.9"/>
<path d="M1429.7,645.53 L1428.2,647.73 L1429.7,649.93 L1431.2,647.73 Z" fill="#8e8e8e"/>
<line x1="1425.5" y1="663.5" x2="1433.9" y2="663.5" stroke="#a8a8a8" stroke-width="0.9"/>
<path d="M1429.7,661.3 L1428.2,663.5 L1429.7,665.7 L1431.2,663.5 Z" fill="#8e8e8e"/>
<g transform="translate(1424.3 234.28) rotate(-90)">
<text x="0" y="0" font-family='"Liberation Sans", sans-serif' font-size="13.2" fill="#262626" font-weight="normal" text-anchor="start" textLength="11.2" lengthAdjust="spacingAndGlyphs">42</text>
<text x="11.7" y="-4.3" font-family='"Liberation Sans", sans-serif' font-size="8.4" fill="#262626" font-weight="normal" text-anchor="start">5</text>
</g>
<g transform="translate(1426.5 324.67) rotate(-90)">
<text x="0" y="0" font-family='"Liberation Sans", sans-serif' font-size="13.2" fill="#262626" font-weight="normal" text-anchor="start" textLength="21.3" lengthAdjust="spacingAndGlyphs">4,31</text>
</g>
<g transform="translate(1424.3 404.39) rotate(-90)">
<text x="0" y="0" font-family='"Liberation Sans", sans-serif' font-size="13.2" fill="#262626" font-weight="normal" text-anchor="start" textLength="11.2" lengthAdjust="spacingAndGlyphs">12</text>
<text x="11.7" y="-4.3" font-family='"Liberation Sans", sans-serif' font-size="8.4" fill="#262626" font-weight="normal" text-anchor="start">5</text>
</g>
<g transform="translate(1426.5 536.32) rotate(-90)">
<text x="0" y="0" font-family='"Liberation Sans", sans-serif' font-size="13.2" fill="#262626" font-weight="normal" text-anchor="start" textLength="21.3" lengthAdjust="spacingAndGlyphs">6,71</text>
<text x="21.8" y="-4.3" font-family='"Liberation Sans", sans-serif' font-size="8.4" fill="#262626" font-weight="normal" text-anchor="start">5</text>
</g>
<g transform="translate(1424.3 663.72) rotate(-90)">
<text x="0" y="0" font-family='"Liberation Sans", sans-serif' font-size="13.2" fill="#262626" font-weight="normal" text-anchor="start" textLength="11.2" lengthAdjust="spacingAndGlyphs">42</text>
<text x="11.7" y="-4.3" font-family='"Liberation Sans", sans-serif' font-size="8.4" fill="#262626" font-weight="normal" text-anchor="start">5</text>
</g>
<line x1="1463.2" y1="214.3" x2="1463.2" y2="667.5" stroke="#c4c4c4" stroke-width="1"/>
<line x1="1459" y1="218.3" x2="1467.4" y2="218.3" stroke="#a8a8a8" stroke-width="0.9"/>
<path d="M1463.2,216.1 L1461.7,218.3 L1463.2,220.5 L1464.7,218.3 Z" fill="#8e8e8e"/>
<line x1="1459" y1="234.07" x2="1467.4" y2="234.07" stroke="#a8a8a8" stroke-width="0.9"/>
<path d="M1463.2,231.87 L1461.7,234.07 L1463.2,236.27 L1464.7,234.07 Z" fill="#8e8e8e"/>
<line x1="1459" y1="366.14" x2="1467.4" y2="366.14" stroke="#a8a8a8" stroke-width="0.9"/>
<path d="M1463.2,363.94 L1461.7,366.14 L1463.2,368.34 L1464.7,366.14 Z" fill="#8e8e8e"/>
<line x1="1459" y1="370.78" x2="1467.4" y2="370.78" stroke="#a8a8a8" stroke-width="0.9"/>
<path d="M1463.2,368.58 L1461.7,370.78 L1463.2,372.98 L1464.7,370.78 Z" fill="#8e8e8e"/>
<line x1="1459" y1="445.35" x2="1467.4" y2="445.35" stroke="#a8a8a8" stroke-width="0.9"/>
<path d="M1463.2,443.15 L1461.7,445.35 L1463.2,447.55 L1464.7,445.35 Z" fill="#8e8e8e"/>
<line x1="1459" y1="449.99" x2="1467.4" y2="449.99" stroke="#a8a8a8" stroke-width="0.9"/>
<path d="M1463.2,447.79 L1461.7,449.99 L1463.2,452.19 L1464.7,449.99 Z" fill="#8e8e8e"/>
<line x1="1459" y1="497.11" x2="1467.4" y2="497.11" stroke="#a8a8a8" stroke-width="0.9"/>
<path d="M1463.2,494.91 L1461.7,497.11 L1463.2,499.31 L1464.7,497.11 Z" fill="#8e8e8e"/>
<line x1="1459" y1="647.73" x2="1467.4" y2="647.73" stroke="#a8a8a8" stroke-width="0.9"/>
<path d="M1463.2,645.53 L1461.7,647.73 L1463.2,649.93 L1464.7,647.73 Z" fill="#8e8e8e"/>
<line x1="1459" y1="663.5" x2="1467.4" y2="663.5" stroke="#a8a8a8" stroke-width="0.9"/>
<path d="M1463.2,661.3 L1461.7,663.5 L1463.2,665.7 L1464.7,663.5 Z" fill="#8e8e8e"/>
<g transform="translate(1457.8 234.28) rotate(-90)">
<text x="0" y="0" font-family='"Liberation Sans", sans-serif' font-size="13.2" fill="#262626" font-weight="normal" text-anchor="start" textLength="11.2" lengthAdjust="spacingAndGlyphs">42</text>
<text x="11.7" y="-4.3" font-family='"Liberation Sans", sans-serif' font-size="8.4" fill="#262626" font-weight="normal" text-anchor="start">5</text>
</g>
<g transform="translate(1460 310.76) rotate(-90)">
<text x="0" y="0" font-family='"Liberation Sans", sans-serif' font-size="13.2" fill="#262626" font-weight="normal" text-anchor="start" textLength="21.3" lengthAdjust="spacingAndGlyphs">3,56</text>
</g>
<g transform="translate(1457.8 376.56) rotate(-90)">
<text x="0" y="0" font-family='"Liberation Sans", sans-serif' font-size="13.2" fill="#262626" font-weight="normal" text-anchor="start" textLength="11.2" lengthAdjust="spacingAndGlyphs">12</text>
<text x="11.7" y="-4.3" font-family='"Liberation Sans", sans-serif' font-size="8.4" fill="#262626" font-weight="normal" text-anchor="start">5</text>
</g>
<g transform="translate(1460 418.72) rotate(-90)">
<text x="0" y="0" font-family='"Liberation Sans", sans-serif' font-size="13.2" fill="#262626" font-weight="normal" text-anchor="start" textLength="21.3" lengthAdjust="spacingAndGlyphs">2,01</text>
</g>
<g transform="translate(1457.8 455.77) rotate(-90)">
<text x="0" y="0" font-family='"Liberation Sans", sans-serif' font-size="13.2" fill="#262626" font-weight="normal" text-anchor="start" textLength="11.2" lengthAdjust="spacingAndGlyphs">12</text>
<text x="11.7" y="-4.3" font-family='"Liberation Sans", sans-serif' font-size="8.4" fill="#262626" font-weight="normal" text-anchor="start">5</text>
</g>
<g transform="translate(1460 484.2) rotate(-90)">
<text x="0" y="0" font-family='"Liberation Sans", sans-serif' font-size="13.2" fill="#262626" font-weight="normal" text-anchor="start" textLength="21.3" lengthAdjust="spacingAndGlyphs">1,27</text>
</g>
<g transform="translate(1460 583.07) rotate(-90)">
<text x="0" y="0" font-family='"Liberation Sans", sans-serif' font-size="13.2" fill="#262626" font-weight="normal" text-anchor="start" textLength="21.3" lengthAdjust="spacingAndGlyphs">4,06</text>
</g>
<g transform="translate(1457.8 663.72) rotate(-90)">
<text x="0" y="0" font-family='"Liberation Sans", sans-serif' font-size="13.2" fill="#262626" font-weight="normal" text-anchor="start" textLength="11.2" lengthAdjust="spacingAndGlyphs">42</text>
<text x="11.7" y="-4.3" font-family='"Liberation Sans", sans-serif' font-size="8.4" fill="#262626" font-weight="normal" text-anchor="start">5</text>
</g>
<line x1="1496.5" y1="214.3" x2="1496.5" y2="667.5" stroke="#c4c4c4" stroke-width="1"/>
<line x1="1492.3" y1="218.3" x2="1500.7" y2="218.3" stroke="#a8a8a8" stroke-width="0.9"/>
<path d="M1496.5,216.1 L1495,218.3 L1496.5,220.5 L1498,218.3 Z" fill="#8e8e8e"/>
<line x1="1492.3" y1="663.5" x2="1500.7" y2="663.5" stroke="#a8a8a8" stroke-width="0.9"/>
<path d="M1496.5,661.3 L1495,663.5 L1496.5,665.7 L1498,663.5 Z" fill="#8e8e8e"/>
<g transform="translate(1493.3 454.35) rotate(-90)">
<text x="0" y="0" font-family='"Liberation Sans", sans-serif' font-size="13.2" fill="#262626" font-weight="normal" text-anchor="start" textLength="26.9" lengthAdjust="spacingAndGlyphs">12,00</text>
</g>
<text x="209.6" y="196.6" font-family='"Liberation Sans", sans-serif' font-size="10.4" fill="#111" font-weight="normal" text-anchor="start" textLength="61.4" lengthAdjust="spacingAndGlyphs" stroke="#111" stroke-width="0.4">DG = 28,14 m²</text>
<text x="297.9" y="185" font-family='"Liberation Sans", sans-serif' font-size="10.5" fill="#111" font-weight="bold" text-anchor="middle" textLength="18.3" lengthAdjust="spacingAndGlyphs" stroke="#111" stroke-width="0.35">RH1</text>
<line x1="288.8" y1="186.7" x2="307.2" y2="186.7" stroke="#111" stroke-width="1"/>
<text x="397.35" y="196.6" font-family='"Liberation Sans", sans-serif' font-size="10.4" fill="#111" font-weight="normal" text-anchor="start" textLength="61.4" lengthAdjust="spacingAndGlyphs" stroke="#111" stroke-width="0.4">DG = 28,14 m²</text>
<text x="485.65" y="185" font-family='"Liberation Sans", sans-serif' font-size="10.5" fill="#111" font-weight="bold" text-anchor="middle" textLength="18.3" lengthAdjust="spacingAndGlyphs" stroke="#111" stroke-width="0.35">RH2</text>
<line x1="476.55" y1="186.7" x2="494.95" y2="186.7" stroke="#111" stroke-width="1"/>
<text x="585.1" y="196.6" font-family='"Liberation Sans", sans-serif' font-size="10.4" fill="#111" font-weight="normal" text-anchor="start" textLength="61.4" lengthAdjust="spacingAndGlyphs" stroke="#111" stroke-width="0.4">DG = 28,14 m²</text>
<text x="673.4" y="185" font-family='"Liberation Sans", sans-serif' font-size="10.5" fill="#111" font-weight="bold" text-anchor="middle" textLength="18.3" lengthAdjust="spacingAndGlyphs" stroke="#111" stroke-width="0.35">RH3</text>
<line x1="664.3" y1="186.7" x2="682.7" y2="186.7" stroke="#111" stroke-width="1"/>
<text x="772.85" y="196.6" font-family='"Liberation Sans", sans-serif' font-size="10.4" fill="#111" font-weight="normal" text-anchor="start" textLength="61.4" lengthAdjust="spacingAndGlyphs" stroke="#111" stroke-width="0.4">DG = 28,14 m²</text>
<text x="861.15" y="185" font-family='"Liberation Sans", sans-serif' font-size="10.5" fill="#111" font-weight="bold" text-anchor="middle" textLength="18.3" lengthAdjust="spacingAndGlyphs" stroke="#111" stroke-width="0.35">RH4</text>
<line x1="852.05" y1="186.7" x2="870.45" y2="186.7" stroke="#111" stroke-width="1"/>
<text x="960.6" y="196.6" font-family='"Liberation Sans", sans-serif' font-size="10.4" fill="#111" font-weight="normal" text-anchor="start" textLength="61.4" lengthAdjust="spacingAndGlyphs" stroke="#111" stroke-width="0.4">DG = 28,14 m²</text>
<text x="1048.9" y="185" font-family='"Liberation Sans", sans-serif' font-size="10.5" fill="#111" font-weight="bold" text-anchor="middle" textLength="18.3" lengthAdjust="spacingAndGlyphs" stroke="#111" stroke-width="0.35">RH5</text>
<line x1="1039.8" y1="186.7" x2="1058.2" y2="186.7" stroke="#111" stroke-width="1"/>
<text x="1148.35" y="196.6" font-family='"Liberation Sans", sans-serif' font-size="10.4" fill="#111" font-weight="normal" text-anchor="start" textLength="61.4" lengthAdjust="spacingAndGlyphs" stroke="#111" stroke-width="0.4">DG = 28,14 m²</text>
<text x="1236.65" y="185" font-family='"Liberation Sans", sans-serif' font-size="10.5" fill="#111" font-weight="bold" text-anchor="middle" textLength="18.3" lengthAdjust="spacingAndGlyphs" stroke="#111" stroke-width="0.35">RH6</text>
<line x1="1227.55" y1="186.7" x2="1245.95" y2="186.7" stroke="#111" stroke-width="1"/>
<text x="803.2" y="176.9" font-family='"Liberation Sans", sans-serif' font-size="18" fill="#111" font-weight="normal" text-anchor="start" textLength="13.8" lengthAdjust="spacingAndGlyphs" stroke="#111" stroke-width="0.6">A</text>
<polygon points="821.2,170.5 833.9,162.2 833.9,178.8" fill="#111"/>
<line x1="836.9" y1="161.2" x2="836.9" y2="184.5" stroke="#111" stroke-width="1.6"/>
<line x1="836.9" y1="188" x2="836.9" y2="196.7" stroke="#111" stroke-width="1.6" stroke-dasharray="4,3"/>
<text x="798.7" y="701.4" font-family='"Liberation Sans", sans-serif' font-size="18" fill="#111" font-weight="normal" text-anchor="start" textLength="13.8" lengthAdjust="spacingAndGlyphs" stroke="#111" stroke-width="0.6">A</text>
<polygon points="821.2,696.8 833.9,688.5 833.9,705.1" fill="#111"/>
<line x1="836.9" y1="684.7" x2="836.9" y2="706.5" stroke="#111" stroke-width="1.6"/>
<line x1="836.9" y1="670.4" x2="836.9" y2="681" stroke="#111" stroke-width="1.6" stroke-dasharray="4,3"/>
<g transform="translate(675.7 859.3) scale(1.5 1)">
<text x="0" y="0" font-family='"Liberation Sans", sans-serif' font-size="18.3" fill="#111" font-weight="normal" text-anchor="start" textLength="120.2" lengthAdjust="spacingAndGlyphs" stroke="#fff" stroke-width="0.35">Dachgeschoss</text>
</g>
<polygon points="1429.8,3 1423.2,109.1 1415.9,109.1" fill="#808080"/>
<polygon points="1412.2,135.2 1421,135.9 1420,156.6 1409.8,155.8" fill="#808080"/>
<polyline points="1412.5,114.5 1410.8,129.4 1425,116.2 1423.7,131.1" fill="none" stroke="#3a3a3a" stroke-width="1.8" stroke-linejoin="miter"/>
<line x1="208.6" y1="436.4" x2="218.2" y2="436.4" stroke="#222" stroke-width="0.9"/>
<path d="M211.6,434.2 L208.6,436.4 L211.6,438.6" fill="none" stroke="#222" stroke-width="0.9"/>
<text x="218.8" y="440" font-family='"Liberation Sans", sans-serif' font-size="10" fill="#222" font-weight="normal" text-anchor="start" textLength="40.9" lengthAdjust="spacingAndGlyphs">NA/2RW</text>
<text x="208" y="452" font-family='"Liberation Sans", sans-serif' font-size="10" fill="#222" font-weight="normal" text-anchor="start" textLength="75.1" lengthAdjust="spacingAndGlyphs">≥0,90/1,20m i.L.</text>
<text x="1243" y="440" font-family='"Liberation Sans", sans-serif' font-size="10" fill="#222" font-weight="normal" text-anchor="start" textLength="40.9" lengthAdjust="spacingAndGlyphs">NA/2RW</text>
<line x1="1284.4" y1="436.4" x2="1294" y2="436.4" stroke="#222" stroke-width="0.9"/>
<path d="M1291,434.2 L1294,436.4 L1291,438.6" fill="none" stroke="#222" stroke-width="0.9"/>
<text x="1243" y="452" font-family='"Liberation Sans", sans-serif' font-size="10" fill="#222" font-weight="normal" text-anchor="start" textLength="75.1" lengthAdjust="spacingAndGlyphs">≥0,90/1,20m i.L.</text>
<rect x="443.7" y="316.3" width="24.5" height="52.5" fill="#fff" stroke="none" stroke-width="0"/>
<rect x="458.8" y="316.3" width="9.4" height="75.6" fill="#fff" stroke="none" stroke-width="0"/>
<g transform="translate(454.2 368.2) rotate(-90)">
<text x="0" y="0" font-family='"Liberation Sans", sans-serif' font-size="10" fill="#222" font-weight="normal" text-anchor="start" textLength="40.9" lengthAdjust="spacingAndGlyphs">NA/2RW</text>
<line x1="41.6" y1="-3.6" x2="51.3" y2="-3.6" stroke="#222" stroke-width="0.9"/>
<path d="M48.3,-5.8 L51.3,-3.6 L48.3,-1.4" fill="none" stroke="#222" stroke-width="0.9"/>
</g>
<text x="466.6" y="316.9" font-family='"Liberation Sans", sans-serif' font-size="10" fill="#222" font-weight="normal" text-anchor="end" textLength="74.4" lengthAdjust="spacingAndGlyphs" transform="rotate(-90 466.6 316.9)">≥0,90/1,20m i.L.</text>
<rect x="679.5" y="316.3" width="24.8" height="52.5" fill="#fff" stroke="none" stroke-width="0"/>
<rect x="694.9" y="316.3" width="9.4" height="75.6" fill="#fff" stroke="none" stroke-width="0"/>
<g transform="translate(690 368.2) rotate(-90)">
<text x="0" y="0" font-family='"Liberation Sans", sans-serif' font-size="10" fill="#222" font-weight="normal" text-anchor="start" textLength="40.9" lengthAdjust="spacingAndGlyphs">NA/2RW</text>
<line x1="41.6" y1="-3.6" x2="51.3" y2="-3.6" stroke="#222" stroke-width="0.9"/>
<path d="M48.3,-5.8 L51.3,-3.6 L48.3,-1.4" fill="none" stroke="#222" stroke-width="0.9"/>
</g>
<text x="702.7" y="316.9" font-family='"Liberation Sans", sans-serif' font-size="10" fill="#222" font-weight="normal" text-anchor="end" textLength="74.4" lengthAdjust="spacingAndGlyphs" transform="rotate(-90 702.7 316.9)">≥0,90/1,20m i.L.</text>
<rect x="819.2" y="316.3" width="24.5" height="52.5" fill="#fff" stroke="none" stroke-width="0"/>
<rect x="834.3" y="316.3" width="9.4" height="75.6" fill="#fff" stroke="none" stroke-width="0"/>
<g transform="translate(829.7 368.2) rotate(-90)">
<text x="0" y="0" font-family='"Liberation Sans", sans-serif' font-size="10" fill="#222" font-weight="normal" text-anchor="start" textLength="40.9" lengthAdjust="spacingAndGlyphs">NA/2RW</text>
<line x1="41.6" y1="-3.6" x2="51.3" y2="-3.6" stroke="#222" stroke-width="0.9"/>
<path d="M48.3,-5.8 L51.3,-3.6 L48.3,-1.4" fill="none" stroke="#222" stroke-width="0.9"/>
</g>
<text x="842.1" y="316.9" font-family='"Liberation Sans", sans-serif' font-size="10" fill="#222" font-weight="normal" text-anchor="end" textLength="74.4" lengthAdjust="spacingAndGlyphs" transform="rotate(-90 842.1 316.9)">≥0,90/1,20m i.L.</text>
<rect x="1055" y="316.3" width="24.8" height="52.5" fill="#fff" stroke="none" stroke-width="0"/>
<rect x="1070.4" y="316.3" width="9.4" height="75.6" fill="#fff" stroke="none" stroke-width="0"/>
<g transform="translate(1065.5 368.2) rotate(-90)">
<text x="0" y="0" font-family='"Liberation Sans", sans-serif' font-size="10" fill="#222" font-weight="normal" text-anchor="start" textLength="40.9" lengthAdjust="spacingAndGlyphs">NA/2RW</text>
<line x1="41.6" y1="-3.6" x2="51.3" y2="-3.6" stroke="#222" stroke-width="0.9"/>
<path d="M48.3,-5.8 L51.3,-3.6 L48.3,-1.4" fill="none" stroke="#222" stroke-width="0.9"/>
</g>
<text x="1078.2" y="316.9" font-family='"Liberation Sans", sans-serif' font-size="10" fill="#222" font-weight="normal" text-anchor="end" textLength="74.4" lengthAdjust="spacingAndGlyphs" transform="rotate(-90 1078.2 316.9)">≥0,90/1,20m i.L.</text>
</svg></body></html>
